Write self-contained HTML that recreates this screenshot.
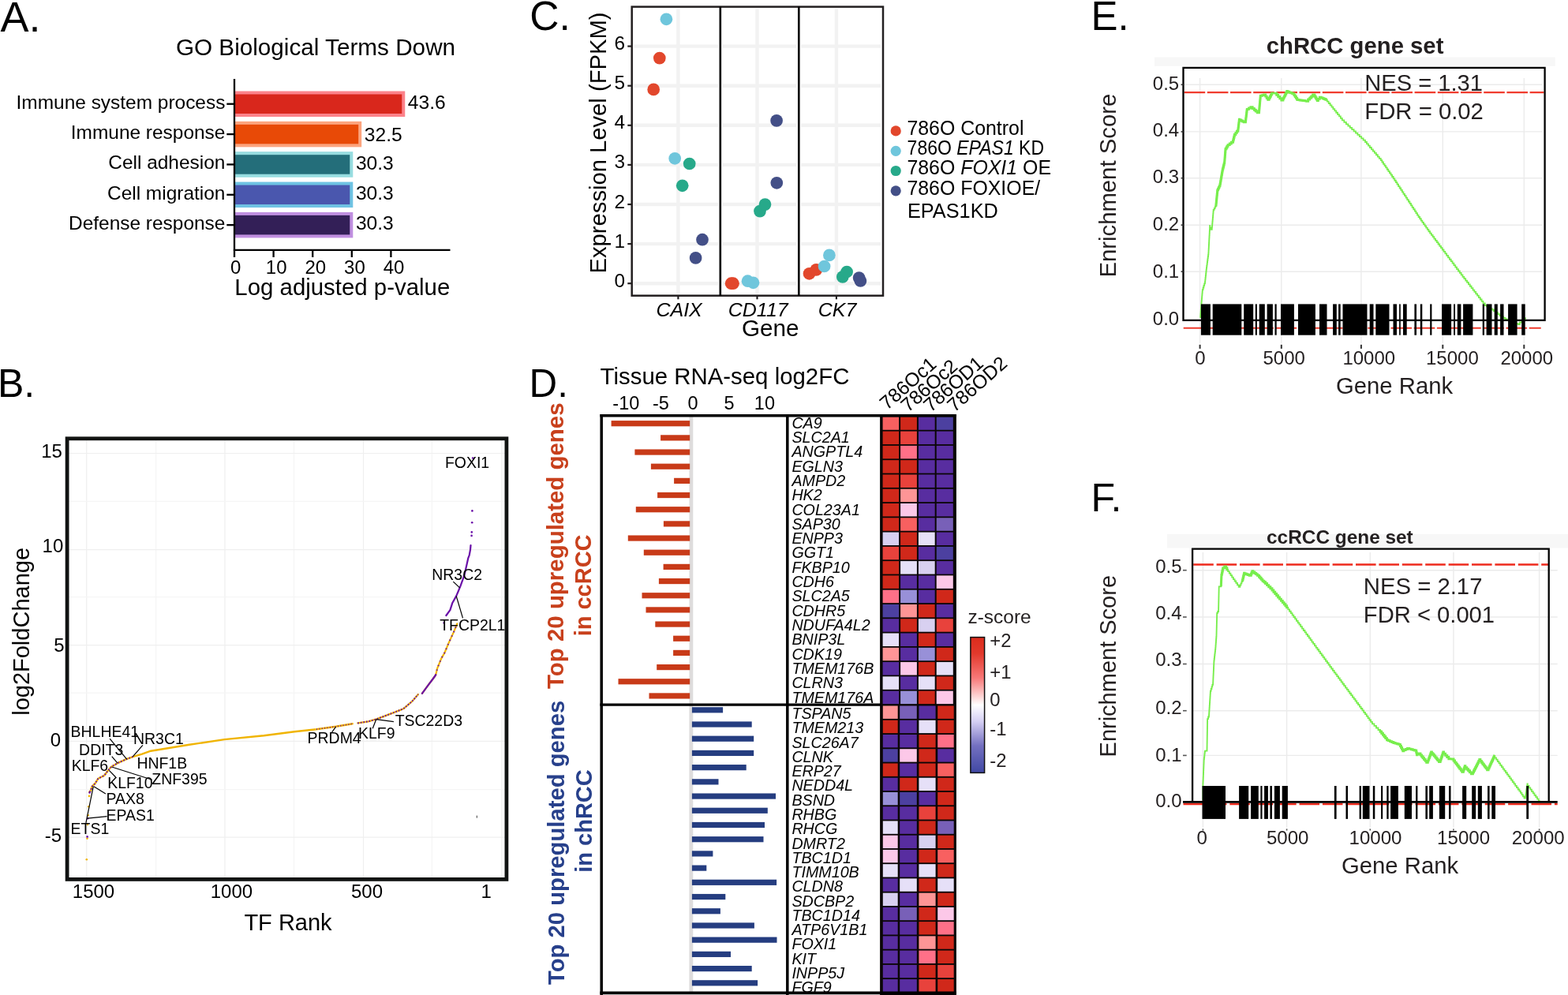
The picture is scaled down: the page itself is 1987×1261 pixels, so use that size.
<!DOCTYPE html>
<html lang="en">
<head>
<meta charset="utf-8">
<title>Figure</title>
<style>
html,body{margin:0;padding:0;background:#fff;}
body{width:1987px;height:1261px;overflow:hidden;}
svg{display:block;font-family:"Liberation Sans",Arial,Helvetica,sans-serif;}
</style>
</head>
<body>
<svg width="1987" height="1261" viewBox="0 0 1987 1261">
<defs><linearGradient id="zg" x1="0" y1="0" x2="0" y2="1"><stop offset="0" stop-color="#dc2c1c"/><stop offset="0.12" stop-color="#e2392c"/><stop offset="0.3" stop-color="#f87878"/><stop offset="0.5" stop-color="#ffffff"/><stop offset="0.62" stop-color="#d6d0f4"/><stop offset="0.8" stop-color="#7470c0"/><stop offset="1" stop-color="#4048a4"/></linearGradient></defs>
<rect x="0" y="0" width="1987" height="1261" fill="#ffffff"/>
<text x="0.6" y="40" font-size="54">A.</text>
<text x="400" y="69.6" font-size="29.7" text-anchor="middle">GO Biological Terms Down</text>
<rect x="297" y="115.5" width="216.26" height="32.5" fill="#fc828a"/>
<rect x="297" y="119.5" width="212.26" height="24.5" fill="#d9271c"/>
<line x1="287.3" y1="131.75" x2="297" y2="131.75" stroke="#000" stroke-width="2.3"/>
<text x="285.4" y="137.55" font-size="24.45" text-anchor="end">Immune system process</text>
<text x="516.86" y="137.95" font-size="24.6">43.6</text>
<rect x="297" y="153.85" width="161.2" height="32.5" fill="#fca47e"/>
<rect x="297" y="157.85" width="157.2" height="24.5" fill="#e84a07"/>
<line x1="287.3" y1="170.1" x2="297" y2="170.1" stroke="#000" stroke-width="2.3"/>
<text x="285.4" y="175.9" font-size="24.45" text-anchor="end">Immune response</text>
<text x="461.8" y="179.4" font-size="24.6">32.5</text>
<rect x="297" y="192.2" width="150.29" height="32.5" fill="#97dde0"/>
<rect x="297" y="196.2" width="146.29" height="24.5" fill="#246e7a"/>
<line x1="287.3" y1="208.45" x2="297" y2="208.45" stroke="#000" stroke-width="2.3"/>
<text x="285.4" y="214.25" font-size="24.45" text-anchor="end">Cell adhesion</text>
<text x="450.89" y="214.65" font-size="24.6">30.3</text>
<rect x="297" y="230.55" width="150.29" height="32.5" fill="#6fc3e3"/>
<rect x="297" y="234.55" width="146.29" height="24.5" fill="#4a57ae"/>
<line x1="287.3" y1="246.8" x2="297" y2="246.8" stroke="#000" stroke-width="2.3"/>
<text x="285.4" y="252.6" font-size="24.45" text-anchor="end">Cell migration</text>
<text x="450.89" y="253" font-size="24.6">30.3</text>
<rect x="297" y="268.9" width="150.29" height="32.5" fill="#c08fe0"/>
<rect x="297" y="272.9" width="146.29" height="24.5" fill="#331f57"/>
<line x1="287.3" y1="285.15" x2="297" y2="285.15" stroke="#000" stroke-width="2.3"/>
<text x="285.4" y="290.95" font-size="24.45" text-anchor="end">Defense response</text>
<text x="450.89" y="291.35" font-size="24.6">30.3</text>
<line x1="297" y1="100" x2="297" y2="326" stroke="#000" stroke-width="2.3"/>
<line x1="295.85" y1="316.9" x2="570.5" y2="316.9" stroke="#000" stroke-width="2.3"/>
<text x="298.6" y="346.8" font-size="24" text-anchor="middle">0</text>
<line x1="346.6" y1="316.9" x2="346.6" y2="326" stroke="#000" stroke-width="2.3"/>
<text x="350.2" y="346.8" font-size="24" text-anchor="middle">10</text>
<line x1="396.2" y1="316.9" x2="396.2" y2="326" stroke="#000" stroke-width="2.3"/>
<text x="399.8" y="346.8" font-size="24" text-anchor="middle">20</text>
<line x1="445.8" y1="316.9" x2="445.8" y2="326" stroke="#000" stroke-width="2.3"/>
<text x="449.4" y="346.8" font-size="24" text-anchor="middle">30</text>
<line x1="495.4" y1="316.9" x2="495.4" y2="326" stroke="#000" stroke-width="2.3"/>
<text x="499" y="346.8" font-size="24" text-anchor="middle">40</text>
<text x="433.8" y="373.6" font-size="29.4" text-anchor="middle">Log adjusted p-value</text>
<text x="-3" y="503" font-size="50">B.</text>
<line x1="109.7" y1="555.8" x2="109.7" y2="1114.4" stroke="#efefef" stroke-width="1.2"/>
<line x1="197.6" y1="555.8" x2="197.6" y2="1114.4" stroke="#f5f5f5" stroke-width="1.2"/>
<line x1="285" y1="555.8" x2="285" y2="1114.4" stroke="#efefef" stroke-width="1.2"/>
<line x1="372.5" y1="555.8" x2="372.5" y2="1114.4" stroke="#f5f5f5" stroke-width="1.2"/>
<line x1="460.5" y1="555.8" x2="460.5" y2="1114.4" stroke="#efefef" stroke-width="1.2"/>
<line x1="547.4" y1="555.8" x2="547.4" y2="1114.4" stroke="#f5f5f5" stroke-width="1.2"/>
<line x1="635.8" y1="555.8" x2="635.8" y2="1114.4" stroke="#efefef" stroke-width="1.2"/>
<line x1="85.1" y1="574.5" x2="641.9" y2="574.5" stroke="#efefef" stroke-width="1.2"/>
<line x1="85.1" y1="635.4" x2="641.9" y2="635.4" stroke="#f5f5f5" stroke-width="1.2"/>
<line x1="85.1" y1="696.6" x2="641.9" y2="696.6" stroke="#efefef" stroke-width="1.2"/>
<line x1="85.1" y1="756.6" x2="641.9" y2="756.6" stroke="#f5f5f5" stroke-width="1.2"/>
<line x1="85.1" y1="817.7" x2="641.9" y2="817.7" stroke="#efefef" stroke-width="1.2"/>
<line x1="85.1" y1="878.2" x2="641.9" y2="878.2" stroke="#f5f5f5" stroke-width="1.2"/>
<line x1="85.1" y1="939.4" x2="641.9" y2="939.4" stroke="#efefef" stroke-width="1.2"/>
<line x1="85.1" y1="1000.6" x2="641.9" y2="1000.6" stroke="#f5f5f5" stroke-width="1.2"/>
<line x1="85.1" y1="1061.1" x2="641.9" y2="1061.1" stroke="#efefef" stroke-width="1.2"/>
<polyline points="113.3,1003.6 114.4,1002.8 115.6,1000 116.7,996.7 120.6,992.8 124.4,986.7 132.2,982.8 136.7,976.7 141.1,971.7 148.9,967.2 160,962.2 168.3,959.1 180,955.6 191.1,951.7 240,943.8 284.4,937.1 334.4,932.2 373.2,927.2 401,924.2 425.6,920.8 446.7,917.2" fill="none" stroke="#f0b400" stroke-width="2.4" stroke-linejoin="round" stroke-linecap="round"/>
<polyline points="453.3,916.4 466.7,914.4 477.8,911.1 495.6,904.4 511.1,898.3 522.2,888.9 529.9,880" fill="none" stroke="#f0b400" stroke-width="2.2" stroke-linejoin="round" stroke-linecap="round"/>
<polyline points="534.9,878.9 542.2,868.9 548.9,860 552.1,855.5 554.3,846.6 559.3,834.4 563.2,827.7 568.8,814.4 574.9,801.1 579.3,790.5" fill="none" stroke="#f0b400" stroke-width="2.2" stroke-linejoin="round" stroke-linecap="round"/>
<polyline points="113.3,1003.6 114.4,1002.8 115.6,1000 116.7,996.7 120.6,992.8 124.4,986.7 132.2,982.8 136.7,976.7 141.1,971.7 148.9,967.2 160,962.2 168.3,959.1" fill="none" stroke="#6a0fa8" stroke-width="2" stroke-dasharray="1.6 2.2"/>
<polyline points="401,924.2 425.6,920.8 446.7,917.2" fill="none" stroke="#6a0fa8" stroke-width="1.6" stroke-dasharray="1 2.4"/>
<polyline points="453.3,916.4 466.7,914.4 477.8,911.1 495.6,904.4 511.1,898.3 522.2,888.9 529.9,880" fill="none" stroke="#6a0fa8" stroke-width="2" stroke-dasharray="1.6 2"/>
<polyline points="534.9,878.9 542.2,868.9 548.9,860 552.1,855.5" fill="none" stroke="#6a0fa8" stroke-width="2.2" stroke-linejoin="round" stroke-linecap="round"/>
<polyline points="552.1,855.5 554.3,846.6 559.3,834.4 563.2,827.7 568.8,814.4 574.9,801.1 579.3,790.5" fill="none" stroke="#6a0fa8" stroke-width="2" stroke-dasharray="1.4 4.5"/>
<polyline points="565.4,780 570.4,773.2 573.2,764.3 578.2,755.4 581,748.8 583.7,742.1 586.5,734.4 588.7,727.7 591.5,715.5 593.2,707.7 594.8,703.3 596,696.6 596.5,691.1" fill="none" stroke="#6a0fa8" stroke-width="2.2" stroke-linejoin="round" stroke-linecap="round"/>
<circle cx="109.8" cy="1089.2" r="1.3" fill="#f0b400"/>
<circle cx="110.5" cy="1062.6" r="1.3" fill="#f0b400"/>
<circle cx="110.6" cy="1060.4" r="1.3" fill="#6a0fa8"/>
<circle cx="110.9" cy="1045" r="1.3" fill="#f0b400"/>
<circle cx="111.1" cy="1037.2" r="1.3" fill="#6a0fa8"/>
<circle cx="111.7" cy="1033.3" r="1.3" fill="#f0b400"/>
<circle cx="112.2" cy="1022.2" r="1.3" fill="#f0b400"/>
<circle cx="113" cy="1008.9" r="1.3" fill="#f0b400"/>
<circle cx="113.6" cy="1004.5" r="1.3" fill="#6a0fa8"/>
<circle cx="562.7" cy="789.4" r="1.3" fill="#6a0fa8"/>
<circle cx="597.6" cy="678.9" r="1.3" fill="#6a0fa8"/>
<circle cx="597.8" cy="674.4" r="1.3" fill="#6a0fa8"/>
<circle cx="598.2" cy="662.2" r="1.3" fill="#6a0fa8"/>
<circle cx="598.4" cy="647.4" r="1.3" fill="#6a0fa8"/>
<circle cx="599.2" cy="580.5" r="1.3" fill="#6a0fa8"/>
<line x1="604.3" y1="1033.6" x2="604.3" y2="1036.6" stroke="#222" stroke-width="0.9"/>
<line x1="139.1" y1="936.1" x2="160.6" y2="962.2" stroke="#000" stroke-width="1.2"/>
<line x1="180.9" y1="944.4" x2="168.3" y2="958.9" stroke="#000" stroke-width="1.2"/>
<line x1="141.7" y1="958.7" x2="148.9" y2="967.2" stroke="#000" stroke-width="1.2"/>
<line x1="192.8" y1="988.3" x2="141.7" y2="972" stroke="#000" stroke-width="1.2"/>
<line x1="146.7" y1="985" x2="138.3" y2="976.4" stroke="#000" stroke-width="1.2"/>
<line x1="133.9" y1="1006.1" x2="118.9" y2="996.7" stroke="#000" stroke-width="1.2"/>
<line x1="135.6" y1="1034.7" x2="110.6" y2="1037.2" stroke="#000" stroke-width="1.2"/>
<line x1="118.3" y1="996.7" x2="108.9" y2="1042.8" stroke="#000" stroke-width="1.2"/>
<line x1="420.6" y1="927.8" x2="425.6" y2="921.1" stroke="#000" stroke-width="1.2"/>
<line x1="472.2" y1="923.3" x2="476.7" y2="911.7" stroke="#000" stroke-width="1.2"/>
<line x1="498.9" y1="914.7" x2="476.7" y2="911.7" stroke="#000" stroke-width="1.2"/>
<line x1="574.3" y1="737.1" x2="582.6" y2="744.9" stroke="#000" stroke-width="1.2"/>
<line x1="578.2" y1="755.4" x2="586.5" y2="783.3" stroke="#000" stroke-width="1.2"/>
<text x="564" y="592.5" font-size="19.45">FOXI1</text>
<text x="547.3" y="734.6" font-size="19.45">NR3C2</text>
<text x="557.2" y="798.6" font-size="19.45">TFCP2L1</text>
<text x="500.7" y="920" font-size="19.45">TSC22D3</text>
<text x="454" y="936.4" font-size="19.45">KLF9</text>
<text x="389.6" y="942.2" font-size="19.45">PRDM4</text>
<text x="89.6" y="933.9" font-size="19.45">BHLHE41</text>
<text x="169" y="942.8" font-size="19.45">NR3C1</text>
<text x="100.1" y="956.7" font-size="19.45">DDIT3</text>
<text x="90.7" y="976.7" font-size="19.45">KLF6</text>
<text x="173.4" y="973.9" font-size="19.45">HNF1B</text>
<text x="192.3" y="994.4" font-size="19.45">ZNF395</text>
<text x="136.2" y="999.4" font-size="19.45">KLF10</text>
<text x="134.6" y="1018.9" font-size="19.45">PAX8</text>
<text x="134.6" y="1040" font-size="19.45">EPAS1</text>
<text x="89.6" y="1056.7" font-size="19.45">ETS1</text>
<rect x="85.1" y="555.8" width="556.8" height="558.6" fill="none" stroke="#111312" stroke-width="4.8"/>
<text x="78.9" y="579.7" font-size="24" text-anchor="end">15</text>
<text x="80.3" y="700.3" font-size="24" text-anchor="end">10</text>
<text x="81.6" y="826" font-size="24" text-anchor="end">5</text>
<text x="77" y="945.6" font-size="24" text-anchor="end">0</text>
<text x="78.2" y="1066.7" font-size="24" text-anchor="end">-5</text>
<text x="118.5" y="1138.3" font-size="24" text-anchor="middle">1500</text>
<text x="293.4" y="1138.3" font-size="24" text-anchor="middle">1000</text>
<text x="465" y="1138.3" font-size="24" text-anchor="middle">500</text>
<text x="616.3" y="1138.3" font-size="24" text-anchor="middle">1</text>
<text x="365" y="1178.7" font-size="29" text-anchor="middle">TF Rank</text>
<text x="0" y="0" font-size="29" text-anchor="middle" transform="translate(36.7 800.4) rotate(-90)">log2FoldChange</text>
<text x="671.2" y="38.3" font-size="51.5">C.</text>
<line x1="803.5" y1="359.2" x2="910" y2="359.2" stroke="#f2f2f2" stroke-width="4.4"/>
<line x1="803.5" y1="309.1" x2="910" y2="309.1" stroke="#f2f2f2" stroke-width="4.4"/>
<line x1="803.5" y1="259" x2="910" y2="259" stroke="#f2f2f2" stroke-width="4.4"/>
<line x1="803.5" y1="208.9" x2="910" y2="208.9" stroke="#f2f2f2" stroke-width="4.4"/>
<line x1="803.5" y1="158.8" x2="910" y2="158.8" stroke="#f2f2f2" stroke-width="4.4"/>
<line x1="803.5" y1="108.7" x2="910" y2="108.7" stroke="#f2f2f2" stroke-width="4.4"/>
<line x1="803.5" y1="58.6" x2="910" y2="58.6" stroke="#f2f2f2" stroke-width="4.4"/>
<line x1="859.4" y1="11.4" x2="859.4" y2="372.7" stroke="#f2f2f2" stroke-width="4.4"/>
<line x1="915.6" y1="359.2" x2="1009.5" y2="359.2" stroke="#f2f2f2" stroke-width="4.4"/>
<line x1="915.6" y1="309.1" x2="1009.5" y2="309.1" stroke="#f2f2f2" stroke-width="4.4"/>
<line x1="915.6" y1="259" x2="1009.5" y2="259" stroke="#f2f2f2" stroke-width="4.4"/>
<line x1="915.6" y1="208.9" x2="1009.5" y2="208.9" stroke="#f2f2f2" stroke-width="4.4"/>
<line x1="915.6" y1="158.8" x2="1009.5" y2="158.8" stroke="#f2f2f2" stroke-width="4.4"/>
<line x1="915.6" y1="108.7" x2="1009.5" y2="108.7" stroke="#f2f2f2" stroke-width="4.4"/>
<line x1="915.6" y1="58.6" x2="1009.5" y2="58.6" stroke="#f2f2f2" stroke-width="4.4"/>
<line x1="959.5" y1="11.4" x2="959.5" y2="372.7" stroke="#f2f2f2" stroke-width="4.4"/>
<line x1="1015.1" y1="359.2" x2="1116.2" y2="359.2" stroke="#f2f2f2" stroke-width="4.4"/>
<line x1="1015.1" y1="309.1" x2="1116.2" y2="309.1" stroke="#f2f2f2" stroke-width="4.4"/>
<line x1="1015.1" y1="259" x2="1116.2" y2="259" stroke="#f2f2f2" stroke-width="4.4"/>
<line x1="1015.1" y1="208.9" x2="1116.2" y2="208.9" stroke="#f2f2f2" stroke-width="4.4"/>
<line x1="1015.1" y1="158.8" x2="1116.2" y2="158.8" stroke="#f2f2f2" stroke-width="4.4"/>
<line x1="1015.1" y1="108.7" x2="1116.2" y2="108.7" stroke="#f2f2f2" stroke-width="4.4"/>
<line x1="1015.1" y1="58.6" x2="1116.2" y2="58.6" stroke="#f2f2f2" stroke-width="4.4"/>
<line x1="1059.9" y1="11.4" x2="1059.9" y2="372.7" stroke="#f2f2f2" stroke-width="4.4"/>
<rect x="800.7" y="8.6" width="318.3" height="366.1" fill="none" stroke="#231f20" stroke-width="2.5"/>
<line x1="912.8" y1="8.6" x2="912.8" y2="374.7" stroke="#000" stroke-width="2.6"/>
<line x1="1012.3" y1="8.6" x2="1012.3" y2="374.7" stroke="#000" stroke-width="2.6"/>
<line x1="795.3" y1="359.2" x2="800.7" y2="359.2" stroke="#231f20" stroke-width="2.2"/>
<text x="792.2" y="363.7" font-size="24.4" text-anchor="end">0</text>
<line x1="795.3" y1="309.1" x2="800.7" y2="309.1" stroke="#231f20" stroke-width="2.2"/>
<text x="792.2" y="313.6" font-size="24.4" text-anchor="end">1</text>
<line x1="795.3" y1="259" x2="800.7" y2="259" stroke="#231f20" stroke-width="2.2"/>
<text x="792.2" y="263.5" font-size="24.4" text-anchor="end">2</text>
<line x1="795.3" y1="208.9" x2="800.7" y2="208.9" stroke="#231f20" stroke-width="2.2"/>
<text x="792.2" y="213.4" font-size="24.4" text-anchor="end">3</text>
<line x1="795.3" y1="158.8" x2="800.7" y2="158.8" stroke="#231f20" stroke-width="2.2"/>
<text x="792.2" y="163.3" font-size="24.4" text-anchor="end">4</text>
<line x1="795.3" y1="108.7" x2="800.7" y2="108.7" stroke="#231f20" stroke-width="2.2"/>
<text x="792.2" y="113.2" font-size="24.4" text-anchor="end">5</text>
<line x1="795.3" y1="58.6" x2="800.7" y2="58.6" stroke="#231f20" stroke-width="2.2"/>
<text x="792.2" y="63.1" font-size="24.4" text-anchor="end">6</text>
<line x1="859.4" y1="374.7" x2="859.4" y2="379.3" stroke="#231f20" stroke-width="2.2"/>
<text x="0" y="0" font-size="23.4" text-anchor="middle" font-style="italic" transform="translate(860.6 400.6) scale(1.07 1)">CAIX</text>
<line x1="959.5" y1="374.7" x2="959.5" y2="379.3" stroke="#231f20" stroke-width="2.2"/>
<text x="0" y="0" font-size="23.4" text-anchor="middle" font-style="italic" transform="translate(960.7 400.6) scale(1.07 1)">CD117</text>
<line x1="1059.9" y1="374.7" x2="1059.9" y2="379.3" stroke="#231f20" stroke-width="2.2"/>
<text x="0" y="0" font-size="23.4" text-anchor="middle" font-style="italic" transform="translate(1061.1 400.6) scale(1.07 1)">CK7</text>
<text x="976.3" y="426.4" font-size="29.7" text-anchor="middle">Gene</text>
<text x="0" y="0" font-size="29.2" text-anchor="middle" transform="translate(768.3 181) rotate(-90)">Expression Level (FPKM)</text>
<circle cx="828.2" cy="113.4" r="7.85" fill="#e2472c"/>
<circle cx="835.8" cy="73.6" r="7.85" fill="#e2472c"/>
<circle cx="844.4" cy="24.3" r="7.85" fill="#6fc6dc"/>
<circle cx="855.2" cy="200.8" r="7.85" fill="#6fc6dc"/>
<circle cx="873.7" cy="207.5" r="7.85" fill="#27a98a"/>
<circle cx="864.7" cy="235.3" r="7.85" fill="#27a98a"/>
<circle cx="890" cy="303.7" r="7.85" fill="#434f87"/>
<circle cx="881.6" cy="326.9" r="7.85" fill="#434f87"/>
<circle cx="926.6" cy="359.2" r="7.85" fill="#e2472c"/>
<circle cx="929" cy="359.2" r="7.85" fill="#e2472c"/>
<circle cx="947.5" cy="356.2" r="7.85" fill="#6fc6dc"/>
<circle cx="954.5" cy="358.3" r="7.85" fill="#6fc6dc"/>
<circle cx="963" cy="267.6" r="7.85" fill="#27a98a"/>
<circle cx="969.5" cy="259.1" r="7.85" fill="#27a98a"/>
<circle cx="984.1" cy="152.9" r="7.85" fill="#434f87"/>
<circle cx="984.3" cy="231.8" r="7.85" fill="#434f87"/>
<circle cx="1025.5" cy="346.8" r="7.85" fill="#e2472c"/>
<circle cx="1034.3" cy="341.9" r="7.85" fill="#e2472c"/>
<circle cx="1050.9" cy="323.4" r="7.85" fill="#6fc6dc"/>
<circle cx="1044.6" cy="337.5" r="7.85" fill="#6fc6dc"/>
<circle cx="1067.8" cy="350.9" r="7.85" fill="#27a98a"/>
<circle cx="1073.1" cy="344.5" r="7.85" fill="#27a98a"/>
<circle cx="1088.6" cy="352.1" r="7.85" fill="#434f87"/>
<circle cx="1090.4" cy="356" r="7.85" fill="#434f87"/>
<circle cx="1135.2" cy="165.9" r="6.6" fill="#e2472c"/>
<circle cx="1135.2" cy="191.3" r="6.6" fill="#6fc6dc"/>
<circle cx="1135.2" cy="216.5" r="6.6" fill="#27a98a"/>
<circle cx="1135.2" cy="241.8" r="6.6" fill="#434f87"/>
<text x="1149.4" y="170.6" font-size="24.9">786O Control</text>
<text x="0" y="0" font-size="24.9" transform="translate(1149.6 196) scale(0.924 1)">786O <tspan font-style="italic">EPAS1</tspan> KD</text>
<text x="1149.4" y="221.1" font-size="24.9">786O <tspan font-style="italic">FOXI1</tspan> OE</text>
<text x="1149.4" y="246.5" font-size="24.9">786O FOXIOE/</text>
<text x="1150" y="275.9" font-size="25.3">EPAS1KD</text>
<text x="670.6" y="502.5" font-size="49.3">D.</text>
<text x="760.6" y="487.1" font-size="29.4">Tissue RNA-seq log2FC</text>
<text x="793.3" y="519.3" font-size="23.5" text-anchor="middle">-10</text>
<text x="837.4" y="519.3" font-size="23.5" text-anchor="middle">-5</text>
<text x="878.1" y="519.3" font-size="23.5" text-anchor="middle">0</text>
<text x="924" y="519.3" font-size="23.5" text-anchor="middle">5</text>
<text x="968.9" y="519.3" font-size="23.5" text-anchor="middle">10</text>
<rect x="873.4" y="528" width="4.9" height="729" fill="#dedcdc"/>
<rect x="774.6" y="533.1" width="99.6" height="7.2" fill="#c83a18"/>
<rect x="837.1" y="551.27" width="37.1" height="7.2" fill="#c83a18"/>
<rect x="804.4" y="569.44" width="69.8" height="7.2" fill="#c83a18"/>
<rect x="824.9" y="587.61" width="49.3" height="7.2" fill="#c83a18"/>
<rect x="854.1" y="605.78" width="20.1" height="7.2" fill="#c83a18"/>
<rect x="833.1" y="623.95" width="41.1" height="7.2" fill="#c83a18"/>
<rect x="805.8" y="642.12" width="68.4" height="7.2" fill="#c83a18"/>
<rect x="840.9" y="660.29" width="33.3" height="7.2" fill="#c83a18"/>
<rect x="795.8" y="678.46" width="78.4" height="7.2" fill="#c83a18"/>
<rect x="815.8" y="696.63" width="58.4" height="7.2" fill="#c83a18"/>
<rect x="840.6" y="714.8" width="33.6" height="7.2" fill="#c83a18"/>
<rect x="834.9" y="732.97" width="39.3" height="7.2" fill="#c83a18"/>
<rect x="813.5" y="751.14" width="60.7" height="7.2" fill="#c83a18"/>
<rect x="818.5" y="769.31" width="55.7" height="7.2" fill="#c83a18"/>
<rect x="830.3" y="787.48" width="43.9" height="7.2" fill="#c83a18"/>
<rect x="853.1" y="805.65" width="21.1" height="7.2" fill="#c83a18"/>
<rect x="853.1" y="823.82" width="21.1" height="7.2" fill="#c83a18"/>
<rect x="832.2" y="841.99" width="42" height="7.2" fill="#c83a18"/>
<rect x="783.5" y="860.16" width="90.7" height="7.2" fill="#c83a18"/>
<rect x="822.5" y="878.33" width="51.7" height="7.2" fill="#c83a18"/>
<rect x="876.9" y="896.2" width="39.2" height="7.2" fill="#253d80"/>
<rect x="876.9" y="914.41" width="75.8" height="7.2" fill="#253d80"/>
<rect x="876.9" y="932.62" width="78.3" height="7.2" fill="#253d80"/>
<rect x="876.9" y="950.83" width="78.3" height="7.2" fill="#253d80"/>
<rect x="876.9" y="969.04" width="68.8" height="7.2" fill="#253d80"/>
<rect x="876.9" y="987.25" width="33.6" height="7.2" fill="#253d80"/>
<rect x="876.9" y="1005.46" width="106.1" height="7.2" fill="#253d80"/>
<rect x="876.9" y="1023.67" width="95.9" height="7.2" fill="#253d80"/>
<rect x="876.9" y="1041.88" width="92.1" height="7.2" fill="#253d80"/>
<rect x="876.9" y="1060.09" width="90.6" height="7.2" fill="#253d80"/>
<rect x="876.9" y="1078.3" width="26.5" height="7.2" fill="#253d80"/>
<rect x="876.9" y="1096.51" width="18.4" height="7.2" fill="#253d80"/>
<rect x="876.9" y="1114.72" width="107.2" height="7.2" fill="#253d80"/>
<rect x="876.9" y="1132.93" width="42.4" height="7.2" fill="#253d80"/>
<rect x="876.9" y="1151.14" width="36" height="7.2" fill="#253d80"/>
<rect x="876.9" y="1169.35" width="79" height="7.2" fill="#253d80"/>
<rect x="876.9" y="1187.56" width="107.6" height="7.2" fill="#253d80"/>
<rect x="876.9" y="1205.77" width="49.1" height="7.2" fill="#253d80"/>
<rect x="876.9" y="1223.98" width="75.8" height="7.2" fill="#253d80"/>
<rect x="876.9" y="1242.19" width="83.2" height="7.2" fill="#253d80"/>
<text x="1003.4" y="542.6" font-size="19.7" font-style="italic">CA9</text>
<text x="1003.4" y="560.92" font-size="19.7" font-style="italic">SLC2A1</text>
<text x="1003.4" y="579.24" font-size="19.7" font-style="italic">ANGPTL4</text>
<text x="1003.4" y="597.56" font-size="19.7" font-style="italic">EGLN3</text>
<text x="1003.4" y="615.88" font-size="19.7" font-style="italic">AMPD2</text>
<text x="1003.4" y="634.2" font-size="19.7" font-style="italic">HK2</text>
<text x="1003.4" y="652.52" font-size="19.7" font-style="italic">COL23A1</text>
<text x="1003.4" y="670.84" font-size="19.7" font-style="italic">SAP30</text>
<text x="1003.4" y="689.16" font-size="19.7" font-style="italic">ENPP3</text>
<text x="1003.4" y="707.48" font-size="19.7" font-style="italic">GGT1</text>
<text x="1003.4" y="725.8" font-size="19.7" font-style="italic">FKBP10</text>
<text x="1003.4" y="744.12" font-size="19.7" font-style="italic">CDH6</text>
<text x="1003.4" y="762.44" font-size="19.7" font-style="italic">SLC2A5</text>
<text x="1003.4" y="780.76" font-size="19.7" font-style="italic">CDHR5</text>
<text x="1003.4" y="799.08" font-size="19.7" font-style="italic">NDUFA4L2</text>
<text x="1003.4" y="817.4" font-size="19.7" font-style="italic">BNIP3L</text>
<text x="1003.4" y="835.72" font-size="19.7" font-style="italic">CDK19</text>
<text x="1003.4" y="854.04" font-size="19.7" font-style="italic">TMEM176B</text>
<text x="1003.4" y="872.36" font-size="19.7" font-style="italic">CLRN3</text>
<text x="1003.4" y="890.68" font-size="19.7" font-style="italic">TMEM176A</text>
<text x="1003.4" y="911.16" font-size="19.7" font-style="italic">TSPAN5</text>
<text x="1003.4" y="929.42" font-size="19.7" font-style="italic">TMEM213</text>
<text x="1003.4" y="947.68" font-size="19.7" font-style="italic">SLC26A7</text>
<text x="1003.4" y="965.94" font-size="19.7" font-style="italic">CLNK</text>
<text x="1003.4" y="984.2" font-size="19.7" font-style="italic">ERP27</text>
<text x="1003.4" y="1002.46" font-size="19.7" font-style="italic">NEDD4L</text>
<text x="1003.4" y="1020.72" font-size="19.7" font-style="italic">BSND</text>
<text x="1003.4" y="1038.98" font-size="19.7" font-style="italic">RHBG</text>
<text x="1003.4" y="1057.24" font-size="19.7" font-style="italic">RHCG</text>
<text x="1003.4" y="1075.5" font-size="19.7" font-style="italic">DMRT2</text>
<text x="1003.4" y="1093.76" font-size="19.7" font-style="italic">TBC1D1</text>
<text x="1003.4" y="1112.02" font-size="19.7" font-style="italic">TIMM10B</text>
<text x="1003.4" y="1130.28" font-size="19.7" font-style="italic">CLDN8</text>
<text x="1003.4" y="1148.54" font-size="19.7" font-style="italic">SDCBP2</text>
<text x="1003.4" y="1166.8" font-size="19.7" font-style="italic">TBC1D14</text>
<text x="1003.4" y="1185.06" font-size="19.7" font-style="italic">ATP6V1B1</text>
<text x="1003.4" y="1203.32" font-size="19.7" font-style="italic">FOXI1</text>
<text x="1003.4" y="1221.58" font-size="19.7" font-style="italic">KIT</text>
<text x="1003.4" y="1239.84" font-size="19.7" font-style="italic">INPP5J</text>
<text x="1003.4" y="1258.1" font-size="19.7" font-style="italic">FGF9</text>
<rect x="1115.1" y="525" width="96.8" height="736" fill="#0a0606"/>
<rect x="1118.6" y="528.3" width="20.5" height="16.5" fill="#f86060"/>
<rect x="1141.1" y="528.3" width="20.8" height="16.5" fill="#d0281a"/>
<rect x="1163.9" y="528.3" width="20.8" height="16.5" fill="#582da0"/>
<rect x="1186.7" y="528.3" width="21.1" height="16.5" fill="#4c40a0"/>
<rect x="1118.6" y="546.58" width="20.5" height="16.5" fill="#d0281a"/>
<rect x="1141.1" y="546.58" width="20.8" height="16.5" fill="#e8423c"/>
<rect x="1163.9" y="546.58" width="20.8" height="16.5" fill="#582da0"/>
<rect x="1186.7" y="546.58" width="21.1" height="16.5" fill="#582da0"/>
<rect x="1118.6" y="564.86" width="20.5" height="16.5" fill="#d0281a"/>
<rect x="1141.1" y="564.86" width="20.8" height="16.5" fill="#ff7088"/>
<rect x="1163.9" y="564.86" width="20.8" height="16.5" fill="#582da0"/>
<rect x="1186.7" y="564.86" width="21.1" height="16.5" fill="#582da0"/>
<rect x="1118.6" y="583.14" width="20.5" height="16.5" fill="#d0281a"/>
<rect x="1141.1" y="583.14" width="20.8" height="16.5" fill="#d0281a"/>
<rect x="1163.9" y="583.14" width="20.8" height="16.5" fill="#582da0"/>
<rect x="1186.7" y="583.14" width="21.1" height="16.5" fill="#582da0"/>
<rect x="1118.6" y="601.42" width="20.5" height="16.5" fill="#d0281a"/>
<rect x="1141.1" y="601.42" width="20.8" height="16.5" fill="#e8423c"/>
<rect x="1163.9" y="601.42" width="20.8" height="16.5" fill="#582da0"/>
<rect x="1186.7" y="601.42" width="21.1" height="16.5" fill="#582da0"/>
<rect x="1118.6" y="619.7" width="20.5" height="16.5" fill="#d0281a"/>
<rect x="1141.1" y="619.7" width="20.8" height="16.5" fill="#fe9596"/>
<rect x="1163.9" y="619.7" width="20.8" height="16.5" fill="#582da0"/>
<rect x="1186.7" y="619.7" width="21.1" height="16.5" fill="#582da0"/>
<rect x="1118.6" y="637.98" width="20.5" height="16.5" fill="#d0281a"/>
<rect x="1141.1" y="637.98" width="20.8" height="16.5" fill="#fcc8e8"/>
<rect x="1163.9" y="637.98" width="20.8" height="16.5" fill="#582da0"/>
<rect x="1186.7" y="637.98" width="21.1" height="16.5" fill="#582da0"/>
<rect x="1118.6" y="656.26" width="20.5" height="16.5" fill="#d0281a"/>
<rect x="1141.1" y="656.26" width="20.8" height="16.5" fill="#f86060"/>
<rect x="1163.9" y="656.26" width="20.8" height="16.5" fill="#582da0"/>
<rect x="1186.7" y="656.26" width="21.1" height="16.5" fill="#7860b8"/>
<rect x="1118.6" y="674.54" width="20.5" height="16.5" fill="#d8d0f0"/>
<rect x="1141.1" y="674.54" width="20.8" height="16.5" fill="#d0281a"/>
<rect x="1163.9" y="674.54" width="20.8" height="16.5" fill="#e6e0f8"/>
<rect x="1186.7" y="674.54" width="21.1" height="16.5" fill="#582da0"/>
<rect x="1118.6" y="692.82" width="20.5" height="16.5" fill="#e8423c"/>
<rect x="1141.1" y="692.82" width="20.8" height="16.5" fill="#d0281a"/>
<rect x="1163.9" y="692.82" width="20.8" height="16.5" fill="#582da0"/>
<rect x="1186.7" y="692.82" width="21.1" height="16.5" fill="#4c40a0"/>
<rect x="1118.6" y="711.1" width="20.5" height="16.5" fill="#d0281a"/>
<rect x="1141.1" y="711.1" width="20.8" height="16.5" fill="#e6e0f8"/>
<rect x="1163.9" y="711.1" width="20.8" height="16.5" fill="#d8d0f0"/>
<rect x="1186.7" y="711.1" width="21.1" height="16.5" fill="#582da0"/>
<rect x="1118.6" y="729.38" width="20.5" height="16.5" fill="#d0281a"/>
<rect x="1141.1" y="729.38" width="20.8" height="16.5" fill="#582da0"/>
<rect x="1163.9" y="729.38" width="20.8" height="16.5" fill="#582da0"/>
<rect x="1186.7" y="729.38" width="21.1" height="16.5" fill="#fcc8e8"/>
<rect x="1118.6" y="747.66" width="20.5" height="16.5" fill="#ff7088"/>
<rect x="1141.1" y="747.66" width="20.8" height="16.5" fill="#9890d8"/>
<rect x="1163.9" y="747.66" width="20.8" height="16.5" fill="#582da0"/>
<rect x="1186.7" y="747.66" width="21.1" height="16.5" fill="#d0281a"/>
<rect x="1118.6" y="765.94" width="20.5" height="16.5" fill="#4c40a0"/>
<rect x="1141.1" y="765.94" width="20.8" height="16.5" fill="#fe9596"/>
<rect x="1163.9" y="765.94" width="20.8" height="16.5" fill="#d0281a"/>
<rect x="1186.7" y="765.94" width="21.1" height="16.5" fill="#582da0"/>
<rect x="1118.6" y="784.22" width="20.5" height="16.5" fill="#582da0"/>
<rect x="1141.1" y="784.22" width="20.8" height="16.5" fill="#d0281a"/>
<rect x="1163.9" y="784.22" width="20.8" height="16.5" fill="#d8d0f0"/>
<rect x="1186.7" y="784.22" width="21.1" height="16.5" fill="#e8423c"/>
<rect x="1118.6" y="802.5" width="20.5" height="16.5" fill="#e6e0f8"/>
<rect x="1141.1" y="802.5" width="20.8" height="16.5" fill="#582da0"/>
<rect x="1163.9" y="802.5" width="20.8" height="16.5" fill="#d0281a"/>
<rect x="1186.7" y="802.5" width="21.1" height="16.5" fill="#582da0"/>
<rect x="1118.6" y="820.78" width="20.5" height="16.5" fill="#fe9596"/>
<rect x="1141.1" y="820.78" width="20.8" height="16.5" fill="#582da0"/>
<rect x="1163.9" y="820.78" width="20.8" height="16.5" fill="#9890d8"/>
<rect x="1186.7" y="820.78" width="21.1" height="16.5" fill="#d0281a"/>
<rect x="1118.6" y="839.06" width="20.5" height="16.5" fill="#582da0"/>
<rect x="1141.1" y="839.06" width="20.8" height="16.5" fill="#fcc8e8"/>
<rect x="1163.9" y="839.06" width="20.8" height="16.5" fill="#d0281a"/>
<rect x="1186.7" y="839.06" width="21.1" height="16.5" fill="#e6e0f8"/>
<rect x="1118.6" y="857.34" width="20.5" height="16.5" fill="#e6e0f8"/>
<rect x="1141.1" y="857.34" width="20.8" height="16.5" fill="#582da0"/>
<rect x="1163.9" y="857.34" width="20.8" height="16.5" fill="#e6e0f8"/>
<rect x="1186.7" y="857.34" width="21.1" height="16.5" fill="#d0281a"/>
<rect x="1118.6" y="875.62" width="20.5" height="16.5" fill="#582da0"/>
<rect x="1141.1" y="875.62" width="20.8" height="16.5" fill="#9890d8"/>
<rect x="1163.9" y="875.62" width="20.8" height="16.5" fill="#d0281a"/>
<rect x="1186.7" y="875.62" width="21.1" height="16.5" fill="#fcc8e8"/>
<rect x="1118.8" y="894.5" width="18.9" height="16.4" fill="#fe9596"/>
<rect x="1140.2" y="894.5" width="21.6" height="16.4" fill="#7860b8"/>
<rect x="1164.4" y="894.5" width="21.2" height="16.4" fill="#582da0"/>
<rect x="1188.2" y="894.5" width="20.5" height="16.4" fill="#d0281a"/>
<rect x="1118.8" y="912.74" width="18.9" height="16.4" fill="#d0281a"/>
<rect x="1140.2" y="912.74" width="21.6" height="16.4" fill="#582da0"/>
<rect x="1164.4" y="912.74" width="21.2" height="16.4" fill="#e6e0f8"/>
<rect x="1188.2" y="912.74" width="20.5" height="16.4" fill="#d0281a"/>
<rect x="1118.8" y="930.98" width="18.9" height="16.4" fill="#582da0"/>
<rect x="1140.2" y="930.98" width="21.6" height="16.4" fill="#582da0"/>
<rect x="1164.4" y="930.98" width="21.2" height="16.4" fill="#d0281a"/>
<rect x="1188.2" y="930.98" width="20.5" height="16.4" fill="#ff7088"/>
<rect x="1118.8" y="949.22" width="18.9" height="16.4" fill="#4c40a0"/>
<rect x="1140.2" y="949.22" width="21.6" height="16.4" fill="#fcc8e8"/>
<rect x="1164.4" y="949.22" width="21.2" height="16.4" fill="#d0281a"/>
<rect x="1188.2" y="949.22" width="20.5" height="16.4" fill="#582da0"/>
<rect x="1118.8" y="967.46" width="18.9" height="16.4" fill="#d0281a"/>
<rect x="1140.2" y="967.46" width="21.6" height="16.4" fill="#582da0"/>
<rect x="1164.4" y="967.46" width="21.2" height="16.4" fill="#d0281a"/>
<rect x="1188.2" y="967.46" width="20.5" height="16.4" fill="#f86060"/>
<rect x="1118.8" y="985.7" width="18.9" height="16.4" fill="#582da0"/>
<rect x="1140.2" y="985.7" width="21.6" height="16.4" fill="#d0281a"/>
<rect x="1164.4" y="985.7" width="21.2" height="16.4" fill="#e6e0f8"/>
<rect x="1188.2" y="985.7" width="20.5" height="16.4" fill="#d0281a"/>
<rect x="1118.8" y="1003.94" width="18.9" height="16.4" fill="#9890d8"/>
<rect x="1140.2" y="1003.94" width="21.6" height="16.4" fill="#4c40a0"/>
<rect x="1164.4" y="1003.94" width="21.2" height="16.4" fill="#582da0"/>
<rect x="1188.2" y="1003.94" width="20.5" height="16.4" fill="#d0281a"/>
<rect x="1118.8" y="1022.18" width="18.9" height="16.4" fill="#582da0"/>
<rect x="1140.2" y="1022.18" width="21.6" height="16.4" fill="#582da0"/>
<rect x="1164.4" y="1022.18" width="21.2" height="16.4" fill="#e8423c"/>
<rect x="1188.2" y="1022.18" width="20.5" height="16.4" fill="#d0281a"/>
<rect x="1118.8" y="1040.42" width="18.9" height="16.4" fill="#e6e0f8"/>
<rect x="1140.2" y="1040.42" width="21.6" height="16.4" fill="#582da0"/>
<rect x="1164.4" y="1040.42" width="21.2" height="16.4" fill="#d0281a"/>
<rect x="1188.2" y="1040.42" width="20.5" height="16.4" fill="#7860b8"/>
<rect x="1118.8" y="1058.66" width="18.9" height="16.4" fill="#fcc8e8"/>
<rect x="1140.2" y="1058.66" width="21.6" height="16.4" fill="#582da0"/>
<rect x="1164.4" y="1058.66" width="21.2" height="16.4" fill="#d8d0f0"/>
<rect x="1188.2" y="1058.66" width="20.5" height="16.4" fill="#d0281a"/>
<rect x="1118.8" y="1076.9" width="18.9" height="16.4" fill="#fcc8e8"/>
<rect x="1140.2" y="1076.9" width="21.6" height="16.4" fill="#582da0"/>
<rect x="1164.4" y="1076.9" width="21.2" height="16.4" fill="#d0281a"/>
<rect x="1188.2" y="1076.9" width="20.5" height="16.4" fill="#f86060"/>
<rect x="1118.8" y="1095.14" width="18.9" height="16.4" fill="#e6e0f8"/>
<rect x="1140.2" y="1095.14" width="21.6" height="16.4" fill="#582da0"/>
<rect x="1164.4" y="1095.14" width="21.2" height="16.4" fill="#e6e0f8"/>
<rect x="1188.2" y="1095.14" width="20.5" height="16.4" fill="#d0281a"/>
<rect x="1118.8" y="1113.38" width="18.9" height="16.4" fill="#582da0"/>
<rect x="1140.2" y="1113.38" width="21.6" height="16.4" fill="#e6e0f8"/>
<rect x="1164.4" y="1113.38" width="21.2" height="16.4" fill="#d0281a"/>
<rect x="1188.2" y="1113.38" width="20.5" height="16.4" fill="#e6e0f8"/>
<rect x="1118.8" y="1131.62" width="18.9" height="16.4" fill="#d8d0f0"/>
<rect x="1140.2" y="1131.62" width="21.6" height="16.4" fill="#582da0"/>
<rect x="1164.4" y="1131.62" width="21.2" height="16.4" fill="#fe9596"/>
<rect x="1188.2" y="1131.62" width="20.5" height="16.4" fill="#d0281a"/>
<rect x="1118.8" y="1149.86" width="18.9" height="16.4" fill="#582da0"/>
<rect x="1140.2" y="1149.86" width="21.6" height="16.4" fill="#7860b8"/>
<rect x="1164.4" y="1149.86" width="21.2" height="16.4" fill="#d0281a"/>
<rect x="1188.2" y="1149.86" width="20.5" height="16.4" fill="#fcc8e8"/>
<rect x="1118.8" y="1168.1" width="18.9" height="16.4" fill="#582da0"/>
<rect x="1140.2" y="1168.1" width="21.6" height="16.4" fill="#582da0"/>
<rect x="1164.4" y="1168.1" width="21.2" height="16.4" fill="#d0281a"/>
<rect x="1188.2" y="1168.1" width="20.5" height="16.4" fill="#ff7088"/>
<rect x="1118.8" y="1186.34" width="18.9" height="16.4" fill="#582da0"/>
<rect x="1140.2" y="1186.34" width="21.6" height="16.4" fill="#582da0"/>
<rect x="1164.4" y="1186.34" width="21.2" height="16.4" fill="#fe9596"/>
<rect x="1188.2" y="1186.34" width="20.5" height="16.4" fill="#d0281a"/>
<rect x="1118.8" y="1204.58" width="18.9" height="16.4" fill="#582da0"/>
<rect x="1140.2" y="1204.58" width="21.6" height="16.4" fill="#582da0"/>
<rect x="1164.4" y="1204.58" width="21.2" height="16.4" fill="#ff7088"/>
<rect x="1188.2" y="1204.58" width="20.5" height="16.4" fill="#d0281a"/>
<rect x="1118.8" y="1222.82" width="18.9" height="16.4" fill="#582da0"/>
<rect x="1140.2" y="1222.82" width="21.6" height="16.4" fill="#582da0"/>
<rect x="1164.4" y="1222.82" width="21.2" height="16.4" fill="#d0281a"/>
<rect x="1188.2" y="1222.82" width="20.5" height="16.4" fill="#e8423c"/>
<rect x="1118.8" y="1241.06" width="18.9" height="16.4" fill="#582da0"/>
<rect x="1140.2" y="1241.06" width="21.6" height="16.4" fill="#582da0"/>
<rect x="1164.4" y="1241.06" width="21.2" height="16.4" fill="#e8423c"/>
<rect x="1188.2" y="1241.06" width="20.5" height="16.4" fill="#d0281a"/>
<line x1="760.4" y1="526.8" x2="1211.9" y2="526.8" stroke="#000" stroke-width="3.5"/>
<line x1="762.2" y1="525" x2="762.2" y2="1261" stroke="#000" stroke-width="3.5"/>
<line x1="997.8" y1="525" x2="997.8" y2="1261" stroke="#000" stroke-width="3.5"/>
<line x1="760.4" y1="893.1" x2="1116" y2="893.1" stroke="#000" stroke-width="3.2"/>
<line x1="760.4" y1="1258.4" x2="1211.9" y2="1258.4" stroke="#000" stroke-width="3.6"/>
<text x="1124" y="520.6" font-size="24.5" transform="rotate(-41.5 1124 520.6)">786Oc1</text>
<text x="1150.8" y="523.3" font-size="24.5" transform="rotate(-41.5 1150.8 523.3)">786Oc2</text>
<text x="1179.4" y="523.3" font-size="24.5" transform="rotate(-41.5 1179.4 523.3)">786OD1</text>
<text x="1209.6" y="523.3" font-size="24.5" transform="rotate(-41.5 1209.6 523.3)">786OD2</text>
<text x="0" y="0" font-size="29.45" text-anchor="middle" fill="#c8401c" font-weight="bold" transform="translate(714.4 691.7) rotate(-90)">Top 20 upregulated genes</text>
<text x="0" y="0" font-size="29" text-anchor="middle" fill="#c8401c" font-weight="bold" transform="translate(749.4 741.9) rotate(-90)">in ccRCC</text>
<text x="0" y="0" font-size="29.25" text-anchor="middle" fill="#27408b" font-weight="bold" transform="translate(714.5 1067.9) rotate(-90)">Top 20 upregulated genes</text>
<text x="0" y="0" font-size="29" text-anchor="middle" fill="#27408b" font-weight="bold" transform="translate(749.6 1040.5) rotate(-90)">in chRCC</text>
<text x="1226.4" y="790.1" font-size="24.5" fill="#231f20">z-score</text>
<rect x="1229.9" y="807.6" width="17.7" height="171.8" fill="url(#zg)" stroke="#111" stroke-width="1.5"/>
<text x="1254.2" y="820.2" font-size="23.9" fill="#231f20">+2</text>
<text x="1254.2" y="859.9" font-size="23.9" fill="#231f20">+1</text>
<text x="1254.2" y="894.9" font-size="23.9" fill="#231f20">0</text>
<text x="1254.2" y="932.3" font-size="23.9" fill="#231f20">-1</text>
<text x="1254.2" y="971.9" font-size="23.9" fill="#231f20">-2</text>
<text x="1382.6" y="38.2" font-size="51">E.</text>
<rect x="1462.9" y="72.5" width="507.8" height="11.2" fill="#f7f7f7"/>
<text x="1717.1" y="68" font-size="29.3" text-anchor="middle" fill="#231f20" font-weight="bold">chRCC gene set</text>
<line x1="1520.6" y1="99" x2="1520.6" y2="435.5" stroke="#ebebeb" stroke-width="1.4"/>
<line x1="1623.8" y1="99" x2="1623.8" y2="435.5" stroke="#ebebeb" stroke-width="1.4"/>
<line x1="1724.9" y1="99" x2="1724.9" y2="435.5" stroke="#ebebeb" stroke-width="1.4"/>
<line x1="1828.3" y1="99" x2="1828.3" y2="435.5" stroke="#ebebeb" stroke-width="1.4"/>
<line x1="1931.3" y1="99" x2="1931.3" y2="435.5" stroke="#ebebeb" stroke-width="1.4"/>
<line x1="1500.5" y1="107.3" x2="1954.5" y2="107.3" stroke="#ebebeb" stroke-width="1.4"/>
<line x1="1500.5" y1="166.9" x2="1954.5" y2="166.9" stroke="#ebebeb" stroke-width="1.4"/>
<line x1="1500.5" y1="225.7" x2="1954.5" y2="225.7" stroke="#ebebeb" stroke-width="1.4"/>
<line x1="1500.5" y1="285.2" x2="1954.5" y2="285.2" stroke="#ebebeb" stroke-width="1.4"/>
<line x1="1500.5" y1="344.2" x2="1954.5" y2="344.2" stroke="#ebebeb" stroke-width="1.4"/>
<line x1="1500.6" y1="117.2" x2="1956.5" y2="117.2" stroke="#f03c2e" stroke-width="2.2" stroke-dasharray="26.6 2.6"/>
<line x1="1499.7" y1="415.8" x2="1952.7" y2="415.8" stroke="#f03c2e" stroke-width="2" stroke-dasharray="26.6 2.6"/>
<polyline points="1521.2,403 1521.2,400.5 1521.39,400.5 1521.39,398 1521.57,398 1521.57,395.5 1521.76,395.5 1521.76,393 1521.94,393 1521.94,390.5 1522.13,390.5 1522.13,388 1522.31,388 1522.31,385.5 1522.5,385.5 1522.5,383.23 1522.69,383.23 1522.69,380.96 1522.87,380.96 1522.87,378.69 1523.06,378.69 1523.06,376.41 1523.24,376.41 1523.24,374.14 1523.43,374.14 1523.43,371.87 1523.61,371.87 1523.61,369.6 1523.8,369.6 1523.8,367.05 1524.6,367.05 1524.6,364.5 1525.4,364.5 1525.4,361.95 1526.2,361.95 1526.2,359.4 1527,359.4 1527,356.87 1527.27,356.87 1527.27,354.34 1527.54,354.34 1527.54,351.81 1527.81,351.81 1527.81,349.29 1528.09,349.29 1528.09,346.76 1528.36,346.76 1528.36,344.23 1528.63,344.23 1528.63,341.7 1528.9,341.7 1528.9,339.31 1529.21,339.31 1529.21,336.93 1529.53,336.93 1529.53,334.54 1529.84,334.54 1529.84,332.15 1530.15,332.15 1530.15,329.76 1530.46,329.76 1530.46,327.38 1530.78,327.38 1530.78,324.99 1531.09,324.99 1531.09,322.6 1531.4,322.6 1531.4,320.15 1531.53,320.15 1531.53,317.69 1531.65,317.69 1531.65,315.24 1531.78,315.24 1531.78,312.79 1531.91,312.79 1531.91,310.33 1532.03,310.33 1532.03,307.88 1532.16,307.88 1532.16,305.43 1532.29,305.43 1532.29,302.97 1532.41,302.97 1532.41,300.52 1532.54,300.52 1532.54,298.07 1532.67,298.07 1532.67,295.61 1532.79,295.61 1532.79,293.16 1532.92,293.16 1532.92,290.71 1533.05,290.71 1533.05,288.25 1533.17,288.25 1533.17,285.8 1533.3,285.8 1533.3,288.35 1534.55,288.35 1534.55,290.9 1535.8,290.9 1535.8,288.37 1536.01,288.37 1536.01,285.83 1536.22,285.83 1536.22,283.3 1536.43,283.3 1536.43,280.77 1536.64,280.77 1536.64,278.23 1536.86,278.23 1536.86,275.7 1537.07,275.7 1537.07,273.17 1537.28,273.17 1537.28,270.63 1537.49,270.63 1537.49,268.1 1537.7,268.1 1537.7,265.97 1538.77,265.97 1538.77,263.83 1539.83,263.83 1539.83,261.7 1540.9,261.7 1540.9,259.32 1541.14,259.32 1541.14,256.95 1541.38,256.95 1541.38,254.57 1541.61,254.57 1541.61,252.2 1541.85,252.2 1541.85,249.82 1542.09,249.82 1542.09,247.45 1542.33,247.45 1542.33,245.07 1542.56,245.07 1542.56,242.7 1542.8,242.7 1542.8,240.33 1543.87,240.33 1543.87,237.97 1544.93,237.97 1544.93,235.6 1546,235.6 1546,233.29 1546.4,233.29 1546.4,230.97 1546.8,230.97 1546.8,228.66 1547.2,228.66 1547.2,226.35 1547.6,226.35 1547.6,224.04 1548,224.04 1548,221.72 1548.4,221.72 1548.4,219.41 1548.8,219.41 1548.8,217.1 1549.2,217.1 1549.2,214.55 1549.83,214.55 1549.83,212 1550.45,212 1550.45,209.45 1551.08,209.45 1551.08,206.9 1551.7,206.9 1551.7,204.54 1551.89,204.54 1551.89,202.19 1552.07,202.19 1552.07,199.83 1552.26,199.83 1552.26,197.47 1552.44,197.47 1552.44,195.11 1552.63,195.11 1552.63,192.76 1552.81,192.76 1552.81,190.4 1553,190.4 1553,187.85 1554.55,187.85 1554.55,185.3 1556.1,185.3 1556.1,183.63 1558.23,183.63 1558.23,181.97 1560.37,181.97 1560.37,180.3 1562.5,180.3 1562.5,177.73 1563.13,177.73 1563.13,175.17 1563.77,175.17 1563.77,172.6 1564.4,172.6 1564.4,170.5 1565.87,170.5 1565.87,168.4 1567.33,168.4 1567.33,166.3 1568.8,166.3 1568.8,163.77 1569.12,163.77 1569.12,161.23 1569.43,161.23 1569.43,158.7 1569.75,158.7 1569.75,156.17 1570.07,156.17 1570.07,153.63 1570.38,153.63 1570.38,151.1 1570.7,151.1 1570.7,152.37 1573.27,152.37 1573.27,153.63 1575.83,153.63 1575.83,154.9 1578.4,154.9 1578.4,152.35 1578.72,152.35 1578.72,149.8 1579.03,149.8 1579.03,147.25 1579.35,147.25 1579.35,144.7 1579.67,144.7 1579.67,142.15 1579.98,142.15 1579.98,139.6 1580.3,139.6 1580.3,138.33 1582.6,138.33 1582.6,137.07 1584.9,137.07 1584.9,135.8 1587.2,135.8 1587.2,138.13 1589.97,138.13 1589.97,140.47 1592.73,140.47 1592.73,142.8 1595.5,142.8 1595.5,140.48 1595.71,140.48 1595.71,138.16 1595.92,138.16 1595.92,135.83 1596.13,135.83 1596.13,133.51 1596.34,133.51 1596.34,131.19 1596.56,131.19 1596.56,128.87 1596.77,128.87 1596.77,126.54 1596.98,126.54 1596.98,124.22 1597.19,124.22 1597.19,121.9 1597.4,121.9 1597.4,121.27 1599.5,121.27 1599.5,120.63 1601.6,120.63 1601.6,120 1603.7,120 1603.7,122.1 1605.2,122.1 1605.2,124.2 1606.7,124.2 1606.7,126.3 1608.2,126.3 1608.2,123.57 1609.67,123.57 1609.67,120.83 1611.13,120.83 1611.13,118.1 1612.6,118.1 1612.6,118.1 1615.15,118.1 1615.15,118.1 1617.7,118.1 1617.7,120.32 1619.75,120.32 1619.75,122.55 1621.8,122.55 1621.8,124.78 1623.85,124.78 1623.85,127 1625.9,127 1625.9,124.7 1627.06,124.7 1627.06,122.4 1628.22,122.4 1628.22,120.1 1629.38,120.1 1629.38,117.8 1630.54,117.8 1630.54,115.5 1631.7,115.5 1631.7,116.57 1634.43,116.57 1634.43,117.63 1637.17,117.63 1637.17,118.7 1639.9,118.7 1639.9,121.23 1641.6,121.23 1641.6,123.77 1643.3,123.77 1643.3,126.3 1645,126.3 1645,126.68 1647.54,126.68 1647.54,127.06 1650.08,127.06 1650.08,127.44 1652.62,127.44 1652.62,127.82 1655.16,127.82 1655.16,128.2 1657.7,128.2 1657.7,125.47 1660.43,125.47 1660.43,122.73 1663.17,122.73 1663.17,120 1665.9,120 1665.9,122.53 1667.4,122.53 1667.4,125.07 1668.9,125.07 1668.9,127.6 1670.4,127.6 1670.4,125.35 1672.3,125.35 1672.3,123.1 1674.2,123.1 1674.2,124.17 1676.73,124.17 1676.73,125.23 1679.27,125.23 1679.27,126.3 1681.8,126.3 1681.8,128.65 1683.7,128.65 1683.7,131 1685.6,131 1685.6,133.35 1687.5,133.35 1687.5,135.7 1689.4,135.7 1689.4,138.05 1691.3,138.05 1691.3,140.4 1693.2,140.4 1693.2,142.75 1695.1,142.75 1695.1,145.1 1697,145.1 1697,147.45 1698.9,147.45 1698.9,149.8 1700.8,149.8 1700.8,152.33 1703.33,152.33 1703.33,154.87 1705.87,154.87 1705.87,157.4 1708.4,157.4 1708.4,159.66 1710.8,159.66 1710.8,161.91 1713.2,161.91 1713.2,164.17 1715.6,164.17 1715.6,166.42 1718,166.42 1718,168.68 1720.4,168.68 1720.4,170.93 1722.8,170.93 1722.8,173.19 1725.2,173.19 1725.2,175.44 1727.6,175.44 1727.6,177.7 1730,177.7 1730,180.02 1731.98,180.02 1731.98,182.34 1733.96,182.34 1733.96,184.66 1735.94,184.66 1735.94,186.98 1737.92,186.98 1737.92,189.3 1739.9,189.3 1739.9,191.62 1741.88,191.62 1741.88,193.94 1743.86,193.94 1743.86,196.26 1745.84,196.26 1745.84,198.58 1747.82,198.58 1747.82,200.9 1749.8,200.9 1749.8,203.21 1751.39,203.21 1751.39,205.52 1752.98,205.52 1752.98,207.83 1754.57,207.83 1754.57,210.14 1756.16,210.14 1756.16,212.45 1757.75,212.45 1757.75,214.75 1759.35,214.75 1759.35,217.06 1760.94,217.06 1760.94,219.37 1762.53,219.37 1762.53,221.68 1764.12,221.68 1764.12,223.99 1765.71,223.99 1765.71,226.3 1767.3,226.3 1767.3,228.74 1768.89,228.74 1768.89,231.17 1770.49,231.17 1770.49,233.61 1772.09,233.61 1772.09,236.04 1773.68,236.04 1773.68,238.48 1775.28,238.48 1775.28,240.91 1776.87,240.91 1776.87,243.34 1778.46,243.34 1778.46,245.78 1780.06,245.78 1780.06,248.22 1781.65,248.22 1781.65,250.65 1783.25,250.65 1783.25,253.09 1784.85,253.09 1784.85,255.52 1786.44,255.52 1786.44,257.95 1788.04,257.95 1788.04,260.39 1789.63,260.39 1789.63,262.82 1791.22,262.82 1791.22,265.26 1792.82,265.26 1792.82,267.69 1794.41,267.69 1794.41,270.13 1796.01,270.13 1796.01,272.56 1797.61,272.56 1797.61,275 1799.2,275 1799.2,277.27 1800.8,277.27 1800.8,279.54 1802.4,279.54 1802.4,281.81 1804,281.81 1804,284.09 1805.6,284.09 1805.6,286.36 1807.2,286.36 1807.2,288.63 1808.8,288.63 1808.8,290.9 1810.4,290.9 1810.4,293.23 1812.14,293.23 1812.14,295.55 1813.87,295.55 1813.87,297.88 1815.61,297.88 1815.61,300.21 1817.35,300.21 1817.35,302.54 1819.08,302.54 1819.08,304.86 1820.82,304.86 1820.82,307.19 1822.55,307.19 1822.55,309.52 1824.29,309.52 1824.29,311.85 1826.03,311.85 1826.03,314.17 1827.76,314.17 1827.76,316.5 1829.5,316.5 1829.5,318.95 1831.35,318.95 1831.35,321.41 1833.19,321.41 1833.19,323.86 1835.04,323.86 1835.04,326.32 1836.88,326.32 1836.88,328.77 1838.73,328.77 1838.73,331.22 1840.58,331.22 1840.58,333.68 1842.42,333.68 1842.42,336.13 1844.27,336.13 1844.27,338.58 1846.12,338.58 1846.12,341.04 1847.96,341.04 1847.96,343.49 1849.81,343.49 1849.81,345.95 1851.65,345.95 1851.65,348.4 1853.5,348.4 1853.5,350.79 1855.36,350.79 1855.36,353.19 1857.21,353.19 1857.21,355.58 1859.07,355.58 1859.07,357.97 1860.93,357.97 1860.93,360.36 1862.79,360.36 1862.79,362.76 1864.64,362.76 1864.64,365.15 1866.5,365.15 1866.5,367.54 1868.36,367.54 1868.36,369.94 1870.21,369.94 1870.21,372.33 1872.07,372.33 1872.07,374.72 1873.93,374.72 1873.93,377.11 1875.79,377.11 1875.79,379.51 1877.64,379.51 1877.64,381.9 1879.5,381.9 1879.5,384.45 1881.75,384.45 1881.75,387 1884,387 1884,388.38 1886.25,388.38 1886.25,389.75 1888.5,389.75 1888.5,391.12 1890.75,391.12 1890.75,392.5 1893,392.5 1893,394.38 1895.5,394.38 1895.5,396.25 1898,396.25 1898,398.12 1900.5,398.12 1900.5,400 1903,400 1903,401.5 1905.25,401.5 1905.25,403 1907.5,403 1907.5,404.5 1909.75,404.5 1909.75,406 1912,406 1912,406.83 1914.33,406.83 1914.33,407.67 1916.67,407.67 1916.67,408.5 1919,408.5 1919,409.33 1921.33,409.33 1921.33,410.17 1923.67,410.17 1923.67,411 1926,411 1926,408.5 1928.67,408.5 1928.67,406 1931.33,406 1931.33,403.5 1934,403.5" fill="none" stroke="#77ee4c" stroke-width="1.8" stroke-linejoin="miter"/>
<polyline points="1540.9,261.7 1540.9,259.8 1541.09,259.8 1541.09,257.9 1541.28,257.9 1541.28,256 1541.47,256 1541.47,254.1 1541.66,254.1 1541.66,252.2 1541.85,252.2 1541.85,250.3 1542.04,250.3 1542.04,248.4 1542.23,248.4 1542.23,246.5 1542.42,246.5 1542.42,244.6 1542.61,244.6 1542.61,242.7 1542.8,242.7 1542.8,240.92 1543.6,240.92 1543.6,239.15 1544.4,239.15 1544.4,237.38 1545.2,237.38 1545.2,235.6 1546,235.6 1546,233.54 1546.36,233.54 1546.36,231.49 1546.71,231.49 1546.71,229.43 1547.07,229.43 1547.07,227.38 1547.42,227.38 1547.42,225.32 1547.78,225.32 1547.78,223.27 1548.13,223.27 1548.13,221.21 1548.49,221.21 1548.49,219.16 1548.84,219.16 1548.84,217.1 1549.2,217.1 1549.2,215.06 1549.7,215.06 1549.7,213.02 1550.2,213.02 1550.2,210.98 1550.7,210.98 1550.7,208.94 1551.2,208.94 1551.2,206.9 1551.7,206.9 1551.7,204.84 1551.86,204.84 1551.86,202.78 1552.03,202.78 1552.03,200.71 1552.19,200.71 1552.19,198.65 1552.35,198.65 1552.35,196.59 1552.51,196.59 1552.51,194.53 1552.67,194.53 1552.67,192.46 1552.84,192.46 1552.84,190.4 1553,190.4 1553,188.7 1554.03,188.7 1554.03,187 1555.07,187 1555.07,185.3 1556.1,185.3 1556.1,183.63 1558.23,183.63 1558.23,181.97 1560.37,181.97 1560.37,180.3 1562.5,180.3 1562.5,178.38 1562.97,178.38 1562.97,176.45 1563.45,176.45 1563.45,174.53 1563.93,174.53 1563.93,172.6 1564.4,172.6 1564.4,170.5 1565.87,170.5 1565.87,168.4 1567.33,168.4 1567.33,166.3 1568.8,166.3 1568.8,164.4 1569.04,164.4 1569.04,162.5 1569.28,162.5 1569.28,160.6 1569.51,160.6 1569.51,158.7 1569.75,158.7 1569.75,156.8 1569.99,156.8 1569.99,154.9 1570.22,154.9 1570.22,153 1570.46,153 1570.46,151.1 1570.7,151.1 1570.7,152.05 1572.62,152.05 1572.62,153 1574.55,153 1574.55,153.95 1576.48,153.95 1576.48,154.9 1578.4,154.9 1578.4,152.99 1578.64,152.99 1578.64,151.07 1578.88,151.07 1578.88,149.16 1579.11,149.16 1579.11,147.25 1579.35,147.25 1579.35,145.34 1579.59,145.34 1579.59,143.43 1579.83,143.43 1579.83,141.51 1580.06,141.51 1580.06,139.6 1580.3,139.6 1580.3,138.33 1582.6,138.33 1582.6,137.07 1584.9,137.07 1584.9,135.8 1587.2,135.8 1587.2,137.55 1589.28,137.55 1589.28,139.3 1591.35,139.3 1591.35,141.05 1593.42,141.05 1593.42,142.8 1595.5,142.8 1595.5,140.71 1595.69,140.71 1595.69,138.62 1595.88,138.62 1595.88,136.53 1596.07,136.53 1596.07,134.44 1596.26,134.44 1596.26,132.35 1596.45,132.35 1596.45,130.26 1596.64,130.26 1596.64,128.17 1596.83,128.17 1596.83,126.08 1597.02,126.08 1597.02,123.99 1597.21,123.99 1597.21,121.9 1597.4,121.9 1597.4,121.27 1599.5,121.27 1599.5,120.63 1601.6,120.63 1601.6,120 1603.7,120 1603.7,122.1 1605.2,122.1 1605.2,124.2 1606.7,124.2 1606.7,126.3 1608.2,126.3 1608.2,124.25 1609.3,124.25 1609.3,122.2 1610.4,122.2 1610.4,120.15 1611.5,120.15 1611.5,118.1 1612.6,118.1 1612.6,118.1 1614.3,118.1 1614.3,118.1 1616,118.1 1616,118.1 1617.7,118.1 1617.7,120.32 1619.75,120.32 1619.75,122.55 1621.8,122.55 1621.8,124.78 1623.85,124.78 1623.85,127 1625.9,127 1625.9,125.08 1626.87,125.08 1626.87,123.17 1627.83,123.17 1627.83,121.25 1628.8,121.25 1628.8,119.33 1629.77,119.33 1629.77,117.42 1630.73,117.42 1630.73,115.5 1631.7,115.5 1631.7,116.3 1633.75,116.3 1633.75,117.1 1635.8,117.1 1635.8,117.9 1637.85,117.9 1637.85,118.7 1639.9,118.7 1639.9,120.6 1641.18,120.6 1641.18,122.5 1642.45,122.5 1642.45,124.4 1643.72,124.4 1643.72,126.3 1645,126.3 1645,126.62 1647.12,126.62 1647.12,126.93 1649.23,126.93 1649.23,127.25 1651.35,127.25 1651.35,127.57 1653.47,127.57 1653.47,127.88 1655.58,127.88 1655.58,128.2 1657.7,128.2 1657.7,126.15 1659.75,126.15 1659.75,124.1 1661.8,124.1 1661.8,122.05 1663.85,122.05 1663.85,120 1665.9,120 1665.9,121.9 1667.03,121.9 1667.03,123.8 1668.15,123.8 1668.15,125.7 1669.28,125.7 1669.28,127.6 1670.4,127.6 1670.4,125.35 1672.3,125.35 1672.3,123.1 1674.2,123.1 1674.2,123.9 1676.1,123.9 1676.1,124.7 1678,124.7 1678,125.5 1679.9,125.5 1679.9,126.3 1681.8,126.3" fill="none" stroke="#77ee4c" stroke-width="2.9" stroke-linejoin="miter"/>
<rect x="1521.9" y="385.4" width="12" height="39.3" fill="#000"/>
<rect x="1536.7" y="385.4" width="36.6" height="39.3" fill="#000"/>
<rect x="1576.2" y="385.4" width="12" height="39.3" fill="#000"/>
<rect x="1590.8" y="385.4" width="2.1" height="39.3" fill="#000"/>
<rect x="1595.7" y="385.4" width="7.1" height="39.3" fill="#000"/>
<rect x="1605.6" y="385.4" width="7.3" height="39.3" fill="#000"/>
<rect x="1615.5" y="385.4" width="2.2" height="39.3" fill="#000"/>
<rect x="1623" y="385.4" width="16.9" height="39.3" fill="#000"/>
<rect x="1645" y="385.4" width="21.9" height="39.3" fill="#000"/>
<rect x="1672" y="385.4" width="9.5" height="39.3" fill="#000"/>
<rect x="1689.1" y="385.4" width="4.7" height="39.3" fill="#000"/>
<rect x="1696.1" y="385.4" width="2.6" height="39.3" fill="#000"/>
<rect x="1701.5" y="385.4" width="31" height="39.3" fill="#000"/>
<rect x="1735.7" y="385.4" width="4.8" height="39.3" fill="#000"/>
<rect x="1743.3" y="385.4" width="17.2" height="39.3" fill="#000"/>
<rect x="1765.5" y="385.4" width="4.5" height="39.3" fill="#000"/>
<rect x="1773.1" y="385.4" width="1.7" height="39.3" fill="#000"/>
<rect x="1778" y="385.4" width="4.7" height="39.3" fill="#000"/>
<rect x="1792.4" y="385.4" width="2.6" height="39.3" fill="#000"/>
<rect x="1799.8" y="385.4" width="2.5" height="39.3" fill="#000"/>
<rect x="1812.2" y="385.4" width="2.2" height="39.3" fill="#000"/>
<rect x="1827.1" y="385.4" width="12" height="39.3" fill="#000"/>
<rect x="1842.1" y="385.4" width="1.9" height="39.3" fill="#000"/>
<rect x="1846.8" y="385.4" width="4.6" height="39.3" fill="#000"/>
<rect x="1854.1" y="385.4" width="12.3" height="39.3" fill="#000"/>
<rect x="1878.7" y="385.4" width="2.3" height="39.3" fill="#000"/>
<rect x="1883.6" y="385.4" width="6.9" height="39.3" fill="#000"/>
<rect x="1893.7" y="385.4" width="4.1" height="39.3" fill="#000"/>
<rect x="1901.1" y="385.4" width="4.4" height="39.3" fill="#000"/>
<rect x="1911.1" y="385.4" width="11.5" height="39.3" fill="#000"/>
<rect x="1928.2" y="385.4" width="4.5" height="39.3" fill="#000"/>
<rect x="1499.5" y="85.9" width="458.1" height="320" fill="none" stroke="#000" stroke-width="2.3"/>
<text x="1494.2" y="114.4" font-size="24" text-anchor="end" fill="#231f20">0.5</text>
<text x="1494.2" y="173" font-size="24" text-anchor="end" fill="#231f20">0.4</text>
<text x="1494.2" y="231.6" font-size="24" text-anchor="end" fill="#231f20">0.3</text>
<text x="1494.2" y="292.2" font-size="24" text-anchor="end" fill="#231f20">0.2</text>
<text x="1494.2" y="351.8" font-size="24" text-anchor="end" fill="#231f20">0.1</text>
<text x="1494.2" y="412.4" font-size="24" text-anchor="end" fill="#231f20">0.0</text>
<line x1="1496.6" y1="107.3" x2="1499.5" y2="107.3" stroke="#333" stroke-width="1.6"/>
<line x1="1496.6" y1="166.9" x2="1499.5" y2="166.9" stroke="#333" stroke-width="1.6"/>
<line x1="1496.6" y1="225.7" x2="1499.5" y2="225.7" stroke="#333" stroke-width="1.6"/>
<line x1="1496.6" y1="285.2" x2="1499.5" y2="285.2" stroke="#333" stroke-width="1.6"/>
<line x1="1496.6" y1="344.2" x2="1499.5" y2="344.2" stroke="#333" stroke-width="1.6"/>
<line x1="1520.6" y1="436.8" x2="1520.6" y2="441.9" stroke="#333" stroke-width="2"/>
<line x1="1623.8" y1="436.8" x2="1623.8" y2="441.9" stroke="#333" stroke-width="2"/>
<line x1="1724.9" y1="436.8" x2="1724.9" y2="441.9" stroke="#333" stroke-width="2"/>
<line x1="1828.3" y1="436.8" x2="1828.3" y2="441.9" stroke="#333" stroke-width="2"/>
<line x1="1931.3" y1="436.8" x2="1931.3" y2="441.9" stroke="#333" stroke-width="2"/>
<text x="1520.9" y="462.2" font-size="24" text-anchor="middle" fill="#231f20">0</text>
<text x="1627.2" y="462.2" font-size="24" text-anchor="middle" fill="#231f20">5000</text>
<text x="1734.8" y="462.2" font-size="24" text-anchor="middle" fill="#231f20">10000</text>
<text x="1840.4" y="462.2" font-size="24" text-anchor="middle" fill="#231f20">15000</text>
<text x="1934.8" y="462.2" font-size="24" text-anchor="middle" fill="#231f20">20000</text>
<text x="1767.1" y="499" font-size="29.3" text-anchor="middle" fill="#231f20">Gene Rank</text>
<text x="0" y="0" font-size="29.3" text-anchor="middle" fill="#231f20" transform="translate(1413.6 235.2) rotate(-90)">Enrichment Score</text>
<text x="1729.3" y="115.2" font-size="29.1" fill="#231f20">NES = 1.31</text>
<text x="1729.3" y="150.8" font-size="29.3" fill="#231f20">FDR = 0.02</text>
<text x="1382.5" y="648.2" font-size="50">F.</text>
<rect x="1479.1" y="677" width="507.9" height="17.5" fill="#f7f7f7"/>
<text x="1697.9" y="689" font-size="24.4" text-anchor="middle" fill="#231f20" font-weight="bold">ccRCC gene set</text>
<line x1="1524.4" y1="700" x2="1524.4" y2="1048.7" stroke="#ebebeb" stroke-width="1.4"/>
<line x1="1630.6" y1="700" x2="1630.6" y2="1048.7" stroke="#ebebeb" stroke-width="1.4"/>
<line x1="1736.3" y1="700" x2="1736.3" y2="1048.7" stroke="#ebebeb" stroke-width="1.4"/>
<line x1="1841.9" y1="700" x2="1841.9" y2="1048.7" stroke="#ebebeb" stroke-width="1.4"/>
<line x1="1950.6" y1="700" x2="1950.6" y2="1048.7" stroke="#ebebeb" stroke-width="1.4"/>
<line x1="1512" y1="722.7" x2="1973.7" y2="722.7" stroke="#ebebeb" stroke-width="1.4"/>
<line x1="1512" y1="782" x2="1973.7" y2="782" stroke="#ebebeb" stroke-width="1.4"/>
<line x1="1512" y1="841.5" x2="1973.7" y2="841.5" stroke="#ebebeb" stroke-width="1.4"/>
<line x1="1512" y1="900.7" x2="1973.7" y2="900.7" stroke="#ebebeb" stroke-width="1.4"/>
<line x1="1512" y1="957.4" x2="1973.7" y2="957.4" stroke="#ebebeb" stroke-width="1.4"/>
<line x1="1512.2" y1="715.4" x2="1962" y2="715.4" stroke="#ee2a1c" stroke-width="2.5" stroke-dasharray="25.6 3.8"/>
<line x1="1499.5" y1="1019.1" x2="1973.7" y2="1019.1" stroke="#ee2a1c" stroke-width="2.5" stroke-dasharray="25.6 3.8"/>
<polyline points="1524.4,1014 1524.4,1011.69 1524.4,1011.69 1524.4,1009.38 1524.4,1009.38 1524.4,1007.06 1524.4,1007.06 1524.4,1004.75 1524.4,1004.75 1524.4,1002.44 1524.4,1002.44 1524.4,1000.12 1524.4,1000.12 1524.4,997.81 1524.4,997.81 1524.4,995.5 1524.4,995.5 1524.4,993.11 1524.5,993.11 1524.5,990.72 1524.6,990.72 1524.6,988.32 1524.7,988.32 1524.7,985.93 1524.8,985.93 1524.8,983.54 1524.9,983.54 1524.9,981.15 1525,981.15 1525,978.75 1525.1,978.75 1525.1,976.36 1525.2,976.36 1525.2,973.97 1525.3,973.97 1525.3,971.58 1525.4,971.58 1525.4,969.18 1525.5,969.18 1525.5,966.79 1525.6,966.79 1525.6,964.4 1525.7,964.4 1525.7,962.1 1525.96,962.1 1525.96,959.8 1526.22,959.8 1526.22,957.5 1526.48,957.5 1526.48,955.2 1526.74,955.2 1526.74,952.9 1527,952.9 1527,951.7 1529.5,951.7 1529.5,949.32 1529.54,949.32 1529.54,946.94 1529.58,946.94 1529.58,944.56 1529.61,944.56 1529.61,942.18 1529.65,942.18 1529.65,939.79 1529.69,939.79 1529.69,937.41 1529.72,937.41 1529.72,935.03 1529.76,935.03 1529.76,932.65 1529.8,932.65 1529.8,930.27 1529.84,930.27 1529.84,927.89 1529.88,927.89 1529.88,925.51 1529.91,925.51 1529.91,923.12 1529.95,923.12 1529.95,920.74 1529.99,920.74 1529.99,918.36 1530.02,918.36 1530.02,915.98 1530.06,915.98 1530.06,913.6 1530.1,913.6 1530.1,911.05 1531.05,911.05 1531.05,908.5 1532,908.5 1532,906.16 1532.15,906.16 1532.15,903.82 1532.29,903.82 1532.29,901.48 1532.44,901.48 1532.44,899.15 1532.58,899.15 1532.58,896.81 1532.73,896.81 1532.73,894.47 1532.88,894.47 1532.88,892.13 1533.02,892.13 1533.02,889.79 1533.17,889.79 1533.17,887.45 1533.32,887.45 1533.32,885.12 1533.46,885.12 1533.46,882.78 1533.61,882.78 1533.61,880.44 1533.75,880.44 1533.75,878.1 1533.9,878.1 1533.9,875.55 1534.7,875.55 1534.7,873 1535.5,873 1535.5,870.45 1536.3,870.45 1536.3,867.9 1537.1,867.9 1537.1,865.55 1537.21,865.55 1537.21,863.2 1537.32,863.2 1537.32,860.85 1537.42,860.85 1537.42,858.5 1537.53,858.5 1537.53,856.15 1537.64,856.15 1537.64,853.8 1537.75,853.8 1537.75,851.45 1537.86,851.45 1537.86,849.1 1537.97,849.1 1537.97,846.75 1538.08,846.75 1538.08,844.4 1538.18,844.4 1538.18,842.05 1538.29,842.05 1538.29,839.7 1538.4,839.7 1538.4,837.34 1538.67,837.34 1538.67,834.99 1538.94,834.99 1538.94,832.63 1539.21,832.63 1539.21,830.27 1539.49,830.27 1539.49,827.91 1539.76,827.91 1539.76,825.56 1540.03,825.56 1540.03,823.2 1540.3,823.2 1540.3,820.86 1540.47,820.86 1540.47,818.51 1540.64,818.51 1540.64,816.17 1540.81,816.17 1540.81,813.83 1540.99,813.83 1540.99,811.49 1541.16,811.49 1541.16,809.14 1541.33,809.14 1541.33,806.8 1541.5,806.8 1541.5,804.47 1541.56,804.47 1541.56,802.13 1541.62,802.13 1541.62,799.8 1541.67,799.8 1541.67,797.47 1541.73,797.47 1541.73,795.13 1541.79,795.13 1541.79,792.8 1541.85,792.8 1541.85,790.47 1541.91,790.47 1541.91,788.13 1541.97,788.13 1541.97,785.8 1542.03,785.8 1542.03,783.47 1542.08,783.47 1542.08,781.13 1542.14,781.13 1542.14,778.8 1542.2,778.8 1542.2,776.9 1543.15,776.9 1543.15,775 1544.1,775 1544.1,772.57 1544.15,772.57 1544.15,770.13 1544.2,770.13 1544.2,767.7 1544.25,767.7 1544.25,765.27 1544.3,765.27 1544.3,762.83 1544.35,762.83 1544.35,760.4 1544.4,760.4 1544.4,757.97 1544.45,757.97 1544.45,755.53 1544.5,755.53 1544.5,753.1 1544.55,753.1 1544.55,750.67 1544.6,750.67 1544.6,748.23 1544.65,748.23 1544.65,745.8 1544.7,745.8 1544.7,743.3 1547.3,743.3 1547.3,740.76 1547.42,740.76 1547.42,738.22 1547.54,738.22 1547.54,735.68 1547.66,735.68 1547.66,733.14 1547.78,733.14 1547.78,730.6 1547.9,730.6 1547.9,728.38 1548.38,728.38 1548.38,726.15 1548.85,726.15 1548.85,723.93 1549.33,723.93 1549.33,721.7 1549.8,721.7 1549.8,719.8 1551.7,719.8 1551.7,717.9 1553.6,717.9 1553.6,719.8 1554.85,719.8 1554.85,721.7 1556.1,721.7 1556.1,724.17 1557.8,724.17 1557.8,726.63 1559.5,726.63 1559.5,729.1 1561.2,729.1 1561.2,731.57 1562.9,731.57 1562.9,734.03 1564.6,734.03 1564.6,736.5 1566.3,736.5 1566.3,738.97 1568,738.97 1568,741.43 1569.7,741.43 1569.7,743.9 1571.4,743.9 1571.4,741.6 1572.43,741.6 1572.43,739.3 1573.47,739.3 1573.47,737 1574.5,737 1574.5,734.3 1575.15,734.3 1575.15,731.6 1575.8,731.6 1575.8,728.9 1576.45,728.9 1576.45,726.2 1577.1,726.2 1577.1,727.23 1579.83,727.23 1579.83,728.27 1582.57,728.27 1582.57,729.3 1585.3,729.3 1585.3,726.45 1586.6,726.45 1586.6,723.6 1587.9,723.6 1587.9,725.5 1590.43,725.5 1590.43,727.4 1592.97,727.4 1592.97,729.3 1595.5,729.3 1595.5,731.85 1597.7,731.85 1597.7,734.4 1599.9,734.4 1599.9,736.95 1602.75,736.95 1602.75,739.5 1605.6,739.5 1605.6,741.6 1607.73,741.6 1607.73,743.7 1609.87,743.7 1609.87,745.8 1612,745.8 1612,748.02 1613.9,748.02 1613.9,750.25 1615.8,750.25 1615.8,752.48 1617.7,752.48 1617.7,754.7 1619.6,754.7 1619.6,756.93 1621.5,756.93 1621.5,759.15 1623.4,759.15 1623.4,761.38 1625.3,761.38 1625.3,763.6 1627.2,763.6 1627.2,765.7 1628.9,765.7 1628.9,767.8 1630.6,767.8 1630.6,769.9 1632.3,769.9 1632.3,772.32 1634.07,772.32 1634.07,774.75 1635.84,774.75 1635.84,777.17 1637.61,777.17 1637.61,779.6 1639.38,779.6 1639.38,782.02 1641.15,782.02 1641.15,784.45 1642.92,784.45 1642.92,786.87 1644.69,786.87 1644.69,789.29 1646.46,789.29 1646.46,791.72 1648.23,791.72 1648.23,794.14 1650,794.14 1650,796.57 1651.77,796.57 1651.77,798.99 1653.54,798.99 1653.54,801.42 1655.31,801.42 1655.31,803.84 1657.08,803.84 1657.08,806.26 1658.85,806.26 1658.85,808.69 1660.62,808.69 1660.62,811.11 1662.38,811.11 1662.38,813.54 1664.15,813.54 1664.15,815.96 1665.92,815.96 1665.92,818.38 1667.69,818.38 1667.69,820.81 1669.46,820.81 1669.46,823.23 1671.23,823.23 1671.23,825.66 1673,825.66 1673,828.08 1674.77,828.08 1674.77,830.51 1676.54,830.51 1676.54,832.93 1678.31,832.93 1678.31,835.35 1680.08,835.35 1680.08,837.78 1681.85,837.78 1681.85,840.2 1683.62,840.2 1683.62,842.63 1685.39,842.63 1685.39,845.05 1687.16,845.05 1687.16,847.48 1688.93,847.48 1688.93,849.9 1690.7,849.9 1690.7,852.3 1692.49,852.3 1692.49,854.71 1694.27,854.71 1694.27,857.11 1696.06,857.11 1696.06,859.52 1697.85,859.52 1697.85,861.92 1699.63,861.92 1699.63,864.33 1701.42,864.33 1701.42,866.73 1703.2,866.73 1703.2,869.14 1704.99,869.14 1704.99,871.54 1706.78,871.54 1706.78,873.95 1708.56,873.95 1708.56,876.35 1710.35,876.35 1710.35,878.75 1712.14,878.75 1712.14,881.16 1713.92,881.16 1713.92,883.56 1715.71,883.56 1715.71,885.97 1717.5,885.97 1717.5,888.37 1719.28,888.37 1719.28,890.78 1721.07,890.78 1721.07,893.18 1722.85,893.18 1722.85,895.59 1724.64,895.59 1724.64,897.99 1726.43,897.99 1726.43,900.4 1728.21,900.4 1728.21,902.8 1730,902.8 1730,905.22 1731.78,905.22 1731.78,907.64 1733.56,907.64 1733.56,910.06 1735.34,910.06 1735.34,912.48 1737.12,912.48 1737.12,914.9 1738.9,914.9 1738.9,917.42 1741.43,917.42 1741.43,919.95 1743.95,919.95 1743.95,922.48 1746.47,922.48 1746.47,925 1749,925 1749,927.54 1751.04,927.54 1751.04,930.08 1753.08,930.08 1753.08,932.62 1755.12,932.62 1755.12,935.16 1757.16,935.16 1757.16,937.7 1759.2,937.7 1759.2,938.65 1761.42,938.65 1761.42,939.6 1763.65,939.6 1763.65,940.55 1765.88,940.55 1765.88,941.5 1768.1,941.5 1768.1,942.13 1770.2,942.13 1770.2,942.77 1772.3,942.77 1772.3,943.4 1774.4,943.4 1774.4,946.17 1775.9,946.17 1775.9,948.93 1777.4,948.93 1777.4,951.7 1778.9,951.7 1778.9,950.63 1781.2,950.63 1781.2,949.57 1783.5,949.57 1783.5,948.5 1785.8,948.5 1785.8,949.12 1788.03,949.12 1788.03,949.75 1790.25,949.75 1790.25,950.38 1792.47,950.38 1792.47,951 1794.7,951 1794.7,953.9 1795.35,953.9 1795.35,956.8 1796,956.8 1796,955.9 1798,955.9 1798,955 1800,955 1800,957.26 1801.86,957.26 1801.86,959.52 1803.72,959.52 1803.72,961.78 1805.58,961.78 1805.58,964.04 1807.44,964.04 1807.44,966.3 1809.3,966.3 1809.3,964.07 1810.15,964.07 1810.15,961.83 1811,961.83 1811,959.6 1811.85,959.6 1811.85,957.37 1812.7,957.37 1812.7,955.13 1813.55,955.13 1813.55,952.9 1814.4,952.9 1814.4,955.45 1816.6,955.45 1816.6,958 1818.8,958 1818.8,960.53 1820.93,960.53 1820.93,963.07 1823.07,963.07 1823.07,965.6 1825.2,965.6 1825.2,963.06 1826.08,963.06 1826.08,960.52 1826.96,960.52 1826.96,957.98 1827.84,957.98 1827.84,955.44 1828.72,955.44 1828.72,952.9 1829.6,952.9 1829.6,955.12 1831.67,955.12 1831.67,957.35 1833.75,957.35 1833.75,959.57 1835.83,959.57 1835.83,961.8 1837.9,961.8 1837.9,961.9 1839.95,961.9 1839.95,962 1842,962 1842,964.33 1843.77,964.33 1843.77,966.66 1845.54,966.66 1845.54,968.99 1847.31,968.99 1847.31,971.31 1849.09,971.31 1849.09,973.64 1850.86,973.64 1850.86,975.97 1852.63,975.97 1852.63,978.3 1854.4,978.3 1854.4,975.77 1855.23,975.77 1855.23,973.23 1856.07,973.23 1856.07,970.7 1856.9,970.7 1856.9,973.25 1859.28,973.25 1859.28,975.8 1861.65,975.8 1861.65,978.35 1864.03,978.35 1864.03,980.9 1866.4,980.9 1866.4,978.6 1867.59,978.6 1867.59,976.3 1868.78,976.3 1868.78,974 1869.96,974 1869.96,971.7 1871.15,971.7 1871.15,969.4 1872.34,969.4 1872.34,967.1 1873.53,967.1 1873.53,964.8 1874.71,964.8 1874.71,962.5 1875.9,962.5 1875.9,964.72 1877.6,964.72 1877.6,966.93 1879.3,966.93 1879.3,969.15 1881,969.15 1881,971.37 1882.7,971.37 1882.7,973.58 1884.4,973.58 1884.4,975.8 1886.1,975.8 1886.1,973.26 1887.27,973.26 1887.27,970.71 1888.44,970.71 1888.44,968.17 1889.61,968.17 1889.61,965.63 1890.79,965.63 1890.79,963.09 1891.96,963.09 1891.96,960.54 1893.13,960.54 1893.13,958 1894.3,958 1894.3,960.36 1896.03,960.36 1896.03,962.72 1897.76,962.72 1897.76,965.08 1899.48,965.08 1899.48,967.44 1901.21,967.44 1901.21,969.81 1902.94,969.81 1902.94,972.17 1904.67,972.17 1904.67,974.53 1906.39,974.53 1906.39,976.89 1908.12,976.89 1908.12,979.25 1909.85,979.25 1909.85,981.61 1911.58,981.61 1911.58,983.97 1913.31,983.97 1913.31,986.33 1915.03,986.33 1915.03,988.69 1916.76,988.69 1916.76,991.06 1918.49,991.06 1918.49,993.42 1920.22,993.42 1920.22,995.78 1921.94,995.78 1921.94,998.14 1923.67,998.14 1923.67,1000.5 1925.4,1000.5 1925.4,1002.7 1926.92,1002.7 1926.92,1004.9 1928.44,1004.9 1928.44,1007.1 1929.96,1007.1 1929.96,1009.3 1931.48,1009.3 1931.48,1011.5 1933,1011.5 1933,1009.25 1933.35,1009.25 1933.35,1007 1933.7,1007 1933.7,1004.75 1934.05,1004.75 1934.05,1002.5 1934.4,1002.5 1934.4,1000.25 1934.75,1000.25 1934.75,998 1935.1,998 1935.1,995.75 1935.45,995.75 1935.45,993.5 1935.8,993.5 1935.8,995.89 1937.54,995.89 1937.54,998.28 1939.29,998.28 1939.29,1000.67 1941.03,1000.67 1941.03,1003.06 1942.78,1003.06 1942.78,1005.44 1944.52,1005.44 1944.52,1007.83 1946.27,1007.83 1946.27,1010.22 1948.01,1010.22 1948.01,1012.61 1949.76,1012.61 1949.76,1015 1951.5,1015" fill="none" stroke="#77ee4c" stroke-width="1.8" stroke-linejoin="miter"/>
<polyline points="1547.3,743.3 1547.3,741.18 1547.4,741.18 1547.4,739.07 1547.5,739.07 1547.5,736.95 1547.6,736.95 1547.6,734.83 1547.7,734.83 1547.7,732.72 1547.8,732.72 1547.8,730.6 1547.9,730.6 1547.9,728.38 1548.38,728.38 1548.38,726.15 1548.85,726.15 1548.85,723.93 1549.33,723.93 1549.33,721.7 1549.8,721.7 1549.8,719.8 1551.7,719.8 1551.7,717.9 1553.6,717.9 1553.6,719.8 1554.85,719.8 1554.85,721.7 1556.1,721.7" fill="none" stroke="#77ee4c" stroke-width="2.9" stroke-linejoin="miter"/>
<polyline points="1574.5,737 1574.5,734.84 1575.02,734.84 1575.02,732.68 1575.54,732.68 1575.54,730.52 1576.06,730.52 1576.06,728.36 1576.58,728.36 1576.58,726.2 1577.1,726.2 1577.1,726.98 1579.15,726.98 1579.15,727.75 1581.2,727.75 1581.2,728.52 1583.25,728.52 1583.25,729.3 1585.3,729.3 1585.3,727.4 1586.17,727.4 1586.17,725.5 1587.03,725.5 1587.03,723.6 1587.9,723.6 1587.9,725.02 1589.8,725.02 1589.8,726.45 1591.7,726.45 1591.7,727.88 1593.6,727.88 1593.6,729.3 1595.5,729.3 1595.5,731 1596.97,731 1596.97,732.7 1598.43,732.7 1598.43,734.4 1599.9,734.4 1599.9,736.1 1601.8,736.1 1601.8,737.8 1603.7,737.8 1603.7,739.5 1605.6,739.5 1605.6,741.6 1607.73,741.6 1607.73,743.7 1609.87,743.7 1609.87,745.8 1612,745.8 1612,748.02 1613.9,748.02 1613.9,750.25 1615.8,750.25 1615.8,752.48 1617.7,752.48 1617.7,754.7 1619.6,754.7 1619.6,756.93 1621.5,756.93 1621.5,759.15 1623.4,759.15 1623.4,761.38 1625.3,761.38 1625.3,763.6 1627.2,763.6 1627.2,765.7 1628.9,765.7 1628.9,767.8 1630.6,767.8 1630.6,769.9 1632.3,769.9" fill="none" stroke="#77ee4c" stroke-width="2.9" stroke-linejoin="miter"/>
<polyline points="1749,925 1749,927.12 1750.7,927.12 1750.7,929.23 1752.4,929.23 1752.4,931.35 1754.1,931.35 1754.1,933.47 1755.8,933.47 1755.8,935.58 1757.5,935.58 1757.5,937.7 1759.2,937.7 1759.2,938.65 1761.42,938.65 1761.42,939.6 1763.65,939.6 1763.65,940.55 1765.88,940.55 1765.88,941.5 1768.1,941.5 1768.1,942.13 1770.2,942.13 1770.2,942.77 1772.3,942.77 1772.3,943.4 1774.4,943.4 1774.4,945.48 1775.53,945.48 1775.53,947.55 1776.65,947.55 1776.65,949.62 1777.78,949.62 1777.78,951.7 1778.9,951.7 1778.9,950.63 1781.2,950.63 1781.2,949.57 1783.5,949.57 1783.5,948.5 1785.8,948.5 1785.8,949.12 1788.03,949.12 1788.03,949.75 1790.25,949.75 1790.25,950.38 1792.47,950.38 1792.47,951 1794.7,951 1794.7,952.93 1795.13,952.93 1795.13,954.87 1795.57,954.87 1795.57,956.8 1796,956.8 1796,955.9 1798,955.9 1798,955 1800,955 1800,956.88 1801.55,956.88 1801.55,958.77 1803.1,958.77 1803.1,960.65 1804.65,960.65 1804.65,962.53 1806.2,962.53 1806.2,964.42 1807.75,964.42 1807.75,966.3 1809.3,966.3 1809.3,964.39 1810.03,964.39 1810.03,962.47 1810.76,962.47 1810.76,960.56 1811.49,960.56 1811.49,958.64 1812.21,958.64 1812.21,956.73 1812.94,956.73 1812.94,954.81 1813.67,954.81 1813.67,952.9 1814.4,952.9 1814.4,954.6 1815.87,954.6 1815.87,956.3 1817.33,956.3 1817.33,958 1818.8,958 1818.8,959.9 1820.4,959.9 1820.4,961.8 1822,961.8 1822,963.7 1823.6,963.7 1823.6,965.6 1825.2,965.6 1825.2,963.48 1825.93,963.48 1825.93,961.37 1826.67,961.37 1826.67,959.25 1827.4,959.25 1827.4,957.13 1828.13,957.13 1828.13,955.02 1828.87,955.02 1828.87,952.9 1829.6,952.9 1829.6,955.12 1831.67,955.12 1831.67,957.35 1833.75,957.35 1833.75,959.57 1835.83,959.57 1835.83,961.8 1837.9,961.8 1837.9,961.9 1839.95,961.9 1839.95,962 1842,962 1842,964.04 1843.55,964.04 1843.55,966.08 1845.1,966.08 1845.1,968.11 1846.65,968.11 1846.65,970.15 1848.2,970.15 1848.2,972.19 1849.75,972.19 1849.75,974.22 1851.3,974.22 1851.3,976.26 1852.85,976.26 1852.85,978.3 1854.4,978.3 1854.4,976.4 1855.03,976.4 1855.03,974.5 1855.65,974.5 1855.65,972.6 1856.28,972.6 1856.28,970.7 1856.9,970.7 1856.9,972.74 1858.8,972.74 1858.8,974.78 1860.7,974.78 1860.7,976.82 1862.6,976.82 1862.6,978.86 1864.5,978.86 1864.5,980.9 1866.4,980.9 1866.4,978.86 1867.46,978.86 1867.46,976.81 1868.51,976.81 1868.51,974.77 1869.57,974.77 1869.57,972.72 1870.62,972.72 1870.62,970.68 1871.68,970.68 1871.68,968.63 1872.73,968.63 1872.73,966.59 1873.79,966.59 1873.79,964.54 1874.84,964.54 1874.84,962.5 1875.9,962.5 1875.9,964.4 1877.36,964.4 1877.36,966.3 1878.81,966.3 1878.81,968.2 1880.27,968.2 1880.27,970.1 1881.73,970.1 1881.73,972 1883.19,972 1883.19,973.9 1884.64,973.9 1884.64,975.8 1886.1,975.8 1886.1,973.82 1887.01,973.82 1887.01,971.84 1887.92,971.84 1887.92,969.87 1888.83,969.87 1888.83,967.89 1889.74,967.89 1889.74,965.91 1890.66,965.91 1890.66,963.93 1891.57,963.93 1891.57,961.96 1892.48,961.96 1892.48,959.98 1893.39,959.98 1893.39,958 1894.3,958" fill="none" stroke="#77ee4c" stroke-width="2.9" stroke-linejoin="miter"/>
<polyline points="1511.1,1016.3 1511.1,695.7 1962.7,695.7 1962.7,1016.3" fill="none" stroke="#000" stroke-width="2.3"/>
<line x1="1499" y1="1016.3" x2="1973.7" y2="1016.3" stroke="#000" stroke-width="2.8"/>
<rect x="1523.5" y="996" width="29.5" height="41.9" fill="#000"/>
<rect x="1570.1" y="996" width="12.1" height="41.9" fill="#000"/>
<rect x="1585.1" y="996" width="9.7" height="41.9" fill="#000"/>
<rect x="1597.4" y="996" width="2.1" height="41.9" fill="#000"/>
<rect x="1602.1" y="996" width="4.8" height="41.9" fill="#000"/>
<rect x="1609.4" y="996" width="2.6" height="41.9" fill="#000"/>
<rect x="1614.9" y="996" width="7" height="41.9" fill="#000"/>
<rect x="1624.7" y="996" width="7.2" height="41.9" fill="#000"/>
<rect x="1690.9" y="996" width="2.7" height="41.9" fill="#000"/>
<rect x="1705.5" y="996" width="2.5" height="41.9" fill="#000"/>
<rect x="1722.6" y="996" width="2.3" height="41.9" fill="#000"/>
<rect x="1726.8" y="996" width="8.7" height="41.9" fill="#000"/>
<rect x="1739.8" y="996" width="2.5" height="41.9" fill="#000"/>
<rect x="1750.1" y="996" width="2.1" height="41.9" fill="#000"/>
<rect x="1757.3" y="996" width="2.3" height="41.9" fill="#000"/>
<rect x="1762.1" y="996" width="9.8" height="41.9" fill="#000"/>
<rect x="1779.8" y="996" width="9.2" height="41.9" fill="#000"/>
<rect x="1794.1" y="996" width="2.3" height="41.9" fill="#000"/>
<rect x="1806.4" y="996" width="2.6" height="41.9" fill="#000"/>
<rect x="1811.2" y="996" width="4.7" height="41.9" fill="#000"/>
<rect x="1823.9" y="996" width="7.3" height="41.9" fill="#000"/>
<rect x="1836" y="996" width="2.5" height="41.9" fill="#000"/>
<rect x="1853.1" y="996" width="5.1" height="41.9" fill="#000"/>
<rect x="1865.2" y="996" width="5" height="41.9" fill="#000"/>
<rect x="1872.8" y="996" width="5.1" height="41.9" fill="#000"/>
<rect x="1885.1" y="996" width="2.5" height="41.9" fill="#000"/>
<rect x="1890.3" y="996" width="4.7" height="41.9" fill="#000"/>
<rect x="1934.3" y="996" width="2.8" height="41.9" fill="#000"/>
<text x="1497.6" y="726.3" font-size="24" text-anchor="end" fill="#231f20">0.5</text>
<text x="1497.6" y="784.5" font-size="24" text-anchor="end" fill="#231f20">0.4</text>
<text x="1497.6" y="843.6" font-size="24" text-anchor="end" fill="#231f20">0.3</text>
<text x="1497.6" y="904.7" font-size="24" text-anchor="end" fill="#231f20">0.2</text>
<text x="1497.6" y="965" font-size="24" text-anchor="end" fill="#231f20">0.1</text>
<text x="1497.6" y="1023.3" font-size="24" text-anchor="end" fill="#231f20">0.0</text>
<line x1="1499" y1="722.7" x2="1503.7" y2="722.7" stroke="#555" stroke-width="1.6"/>
<line x1="1499" y1="782" x2="1503.7" y2="782" stroke="#555" stroke-width="1.6"/>
<line x1="1499" y1="841.5" x2="1503.7" y2="841.5" stroke="#555" stroke-width="1.6"/>
<line x1="1499" y1="900.7" x2="1503.7" y2="900.7" stroke="#555" stroke-width="1.6"/>
<line x1="1499" y1="957.4" x2="1503.7" y2="957.4" stroke="#555" stroke-width="1.6"/>
<line x1="1524.4" y1="1050.4" x2="1524.4" y2="1052.6" stroke="#555" stroke-width="1.6"/>
<line x1="1630.6" y1="1050.4" x2="1630.6" y2="1052.6" stroke="#555" stroke-width="1.6"/>
<line x1="1736.3" y1="1050.4" x2="1736.3" y2="1052.6" stroke="#555" stroke-width="1.6"/>
<line x1="1841.9" y1="1050.4" x2="1841.9" y2="1052.6" stroke="#555" stroke-width="1.6"/>
<line x1="1950.6" y1="1050.4" x2="1950.6" y2="1052.6" stroke="#555" stroke-width="1.6"/>
<text x="1523.1" y="1070.3" font-size="24.1" text-anchor="middle" fill="#231f20">0</text>
<text x="1631.7" y="1070.3" font-size="24.1" text-anchor="middle" fill="#231f20">5000</text>
<text x="1743" y="1070.3" font-size="24.1" text-anchor="middle" fill="#231f20">10000</text>
<text x="1854.6" y="1070.3" font-size="24.1" text-anchor="middle" fill="#231f20">15000</text>
<text x="1949.2" y="1070.3" font-size="24.1" text-anchor="middle" fill="#231f20">20000</text>
<text x="1774.1" y="1107.3" font-size="29.3" text-anchor="middle" fill="#231f20">Gene Rank</text>
<text x="0" y="0" font-size="29" text-anchor="middle" fill="#231f20" transform="translate(1414 844.2) rotate(-90)">Enrichment Score</text>
<text x="1727.8" y="753.4" font-size="29.3" fill="#231f20">NES = 2.17</text>
<text x="1727.8" y="789.1" font-size="29.2" fill="#231f20">FDR &lt; 0.001</text>
</svg>
</body>
</html>
